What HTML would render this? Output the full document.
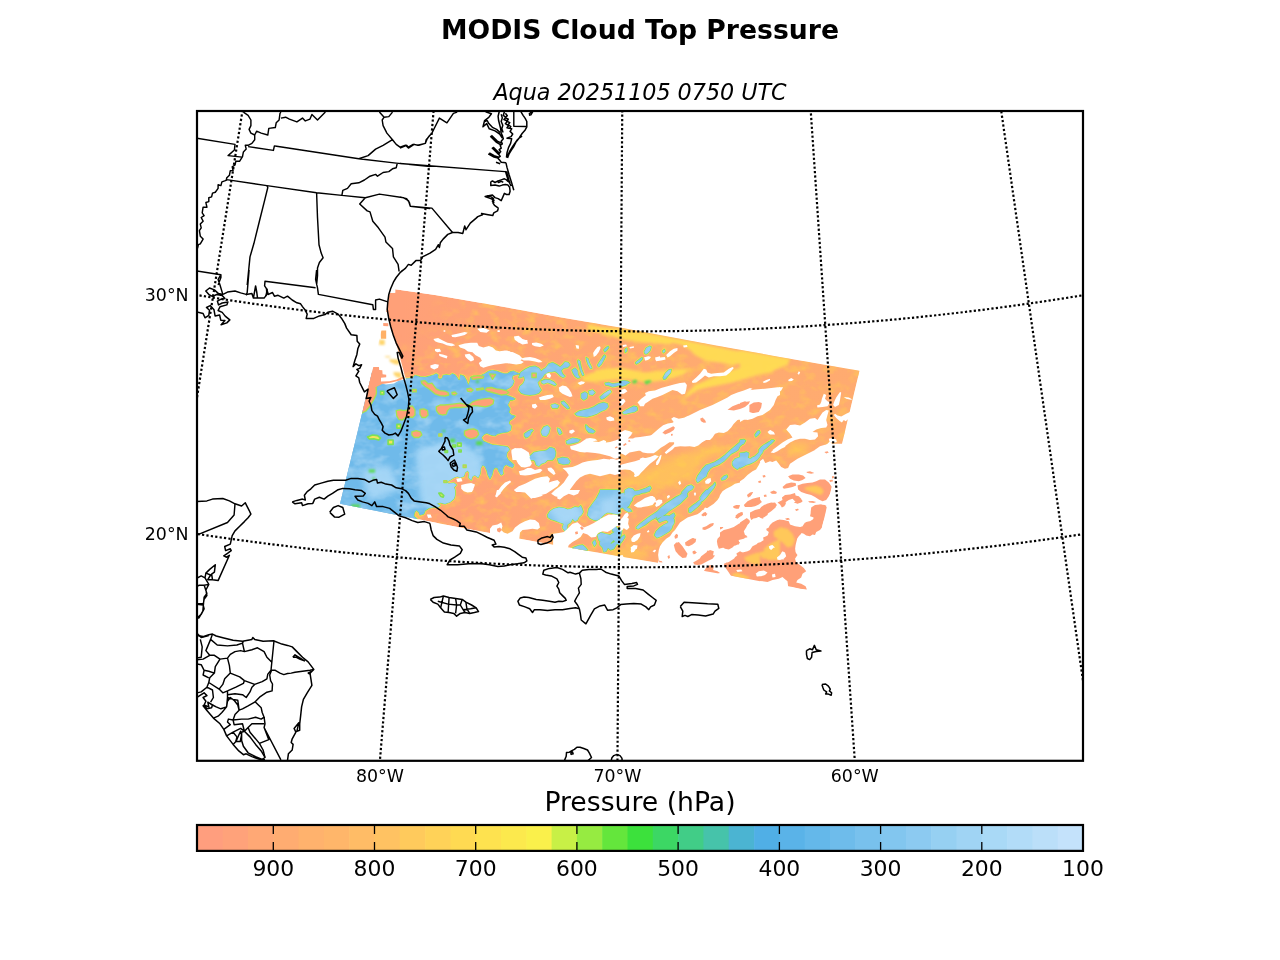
<!DOCTYPE html>
<html><head><meta charset="utf-8"><title>MODIS Cloud Top Pressure</title>
<style>
html,body{margin:0;padding:0;background:#fff;}
text{opacity:0.999}
svg{display:block;font-family:"DejaVu Sans","Liberation Sans",sans-serif;fill:#000}
</style></head><body>
<svg width="1280" height="960" viewBox="0 0 1280 960">
<rect width="1280" height="960" fill="#fff"/>
<defs><clipPath id="ax"><rect x="197" y="111" width="886" height="649.8"/></clipPath></defs>
<text x="640" y="39.3" font-size="26.67" font-weight="bold" text-anchor="middle">MODIS Cloud Top Pressure</text>
<text x="640" y="100" font-size="22.22" font-style="italic" text-anchor="middle">Aqua 20251105 0750 UTC</text>
<g clip-path="url(#ax)">
<defs>
<clipPath id="swc"><path d="M395.2 289.2 435 295.1 480 302.8 515 309 560 317.2 620 327.6 715 345.3 780 356.9 859.5 370.8 807 590.3 730 575.5 658.7 563.1 600 553.1 537.5 541.9 460 527.5 340 503.7 355.6 440 373 368 378.8 341 383 324 387.5 306 389.5 293 395.2 292.8Z"/></clipPath>
<filter id="bl3" x="-20%" y="-20%" width="140%" height="140%"><feGaussianBlur stdDeviation="3"/></filter>
<filter id="bl05" x="-30%" y="-30%" width="160%" height="160%"><feGaussianBlur stdDeviation="0.6"/></filter><filter id="bl2" x="-20%" y="-20%" width="140%" height="140%"><feGaussianBlur stdDeviation="1.8"/></filter><filter id="bl1" x="-20%" y="-20%" width="140%" height="140%"><feGaussianBlur stdDeviation="1"/></filter>
<filter id="texo" x="0" y="0" width="100%" height="100%" color-interpolation-filters="sRGB"><feTurbulence type="fractalNoise" baseFrequency="0.08 0.11" numOctaves="3" seed="7"/><feColorMatrix type="matrix" values="0 0 0 0 1  0 0 0 0 0.76  0 0 0 0 0.36  2.3 0 0 0 -1.07"/></filter>
<filter id="texb" x="0" y="0" width="100%" height="100%" color-interpolation-filters="sRGB"><feTurbulence type="fractalNoise" baseFrequency="0.06 0.09" numOctaves="3" seed="11"/><feColorMatrix type="matrix" values="0 0 0 0 0.66  0 0 0 0 0.84  0 0 0 0 0.96  1.9 0 0 0 -0.82"/></filter>
<radialGradient id="tg" gradientUnits="userSpaceOnUse" cx="396" cy="300" r="75"><stop offset="0" stop-color="#000"/><stop offset="0.45" stop-color="#000"/><stop offset="1" stop-color="#fff"/></radialGradient><mask id="tm" maskUnits="userSpaceOnUse" x="330" y="280" width="540" height="320"><rect x="330" y="280" width="540" height="320" fill="#fff"/><circle cx="396" cy="300" r="75" fill="url(#tg)"/></mask>
<linearGradient id="og" gradientUnits="userSpaceOnUse" x1="400" y1="0" x2="700" y2="0"><stop offset="0" stop-color="#ffb866" stop-opacity="0"/><stop offset="1" stop-color="#ffb866" stop-opacity="0.45"/></linearGradient>
</defs>
<g clip-path="url(#swc)">
<path d="M395.2 289.2 435 295.1 480 302.8 515 309 560 317.2 620 327.6 715 345.3 780 356.9 859.5 370.8 807 590.3 730 575.5 658.7 563.1 600 553.1 537.5 541.9 460 527.5 340 503.7 355.6 440 373 368 378.8 341 383 324 387.5 306 389.5 293 395.2 292.8Z" fill="#ffa078"/>
<rect x="330" y="280" width="540" height="320" fill="url(#og)"/>
<g mask="url(#tm)"><rect x="330" y="280" width="540" height="320" filter="url(#texo)"/></g>
<path d="M413.8 510 417.5 509.4 420 512.5 420.6 516.2 417.5 518.1 414 516.2Z M595 481.2 620 477.5 632.5 475 645 470 657.5 465 670 458.8 682.5 453.8 695 451.2 707.5 447.5 720 445 726.2 447.5 720 452.5 707.5 458.8 700 465 695 472.5 690 477.5 682.5 481.2 675 486.2 667.5 487.5 657.5 488.8 645 487.5 632.5 486.2 620 487.5 595 485Z M601.2 552.5 620 547.5 627.5 546.2 635 548.8 642.5 552.5 647.5 555 645 560 601.2 560Z M673.8 510 677.5 508.8 680 512.5 678.8 517.5 675 516.2Z M787.5 447.5 793.8 443.8 802.5 442.5 810 445 807.5 450 802.5 453.8 796.2 456.2 790 455Z M631.2 550 640 548.8 647.5 552.5 645 557.5 637.5 557.5 632.5 555Z" fill="#ffd24e" filter="url(#bl3)" opacity="0.55"/>
<path d="M587.5 325 620 328.8 657.5 335 695 342.5 732.5 350 780 357.5 780 362.5 757.5 361.2 745 362.5 732.5 365 720 362.5 707.5 361.2 700 357.5 695 355 690 350 682.5 345 670 342.5 657.5 343.8 645 341.2 632.5 340 620 338.8 587.5 328.8Z M595 370 620 367.5 632.5 370 645 372.5 657.5 371.2 670 370 682.5 368.8 690 370 682.5 375 670 378.8 657.5 381.2 645 382.5 632.5 380 620 378.8 595 375Z M732.5 370 745 366.2 757.5 363.8 770 361.2 780 360 780 367.5 770 372.5 757.5 375 745 378.8 732.5 382.5 720 385 707.5 387.5 697.5 390 690 395 682.5 400 687.5 392.5 695 385 707.5 380 720 375Z M740 350 765 354.4 790 358.8 787.5 365 777.5 368.8 765 371.2 752.5 376.2 740 378.8Z M582.2 377.2 593.1 372.5 605.6 369.4 621.2 367.8 621.2 378.8 608.8 380.3 593.1 381.9 583.8 381.1Z M622.8 331.9 640 335 655.6 337.3 671.2 339.7 671.2 344.4 655.6 343.6 640 342 624.4 339.7Z" fill="#ffdd52" filter="url(#bl2)" opacity="0.95"/>
<path d="M320 525 320 368 372 368 375.9 386.6 382.1 383.5 390.4 382.5 398.8 380.4 404 378.4 407.5 378.8 412.5 378.1 415 375.6 417.5 376.2 420 376.9 425 377.5 430 376.2 433.8 375 436.2 373.8 438.1 375 437.5 378.1 440 379.4 442.5 378.1 443.1 375.6 446.2 375 450 375.6 452.5 373.8 455 375 456.9 377.5 458.8 380.6 460 380 460.6 375 463.8 376.2 466.2 380 467.5 383.8 468.8 385 470 381.2 470.6 377.5 473.8 376.2 477.5 376.9 481.2 375.6 485 373.8 488.8 371.2 492.5 370.6 496.2 371.2 500 372.5 503.8 373.8 507.5 373.8 510 371.9 513.8 371.2 516.2 372.5 520 373.8 520 373.8 516.2 374.4 512.5 375.6 511.9 378.8 513.8 381.2 512.5 385 510 387.5 506.2 389.4 503.8 391.2 505 395 508.8 396.2 512.5 397.5 515 398.8 512.5 400 510 400 507.5 405 510 408.8 508.8 412.5 511.2 415 515 416.2 512.5 418.8 509.4 420.6 508.8 423.8 511.2 426.2 510.6 430 507.5 431.9 502.5 432.5 497.5 433.8 495 435.6 491.2 435 486.9 433.1 483.8 434.4 481.2 437.5 483.1 441.2 487.5 443.1 492.5 445 497.5 445.6 502.5 446.2 507.5 446.9 509.4 449.4 506.9 452.5 506.2 456.2 508.1 460 511.2 462.5 513.8 465 512.5 467.5 509.4 466.2 506.2 464.4 503.8 466.2 502.5 470 503.1 473.8 501.2 475 498.8 471.2 497.5 468.1 495 467.5 493.1 470 491.9 475 490 478.8 488.1 475 486.9 470.6 485 466.2 482.5 465 480.6 468.1 480 473.8 478.1 477.5 475 475 472.5 476.2 471.2 480 468.8 477.5 469.4 472.5 467.5 470.6 465 472.5 463.8 476.2 460 477.5 457.5 476.2 453.8 477.5 450 480 446.2 481.9 448.8 483.8 453.8 483.1 456.2 485 453.8 487.5 455 490 455 495 453.8 498.8 450 501.9 445 503.8 440 502.5 436.2 503.8 440 505.6 437.5 507.5 433.8 506.9 428.8 508.1 425 510.6 423.8 513.8 420 515 418.8 511.9 416.2 510 414.4 512.5 413.8 516.2 417.5 519.4 417 530Z M543.8 426.9 547.5 425.6 550 428.1 548.8 432.5 546.2 435.6 543.1 434.4 541.2 431.2Z M557.5 428.1 560 430 561.2 433.8 559.4 434.4 557.8 431.2Z M524.4 433.8 528.1 431.2 531.9 429.4 533.1 430.6 530 433.8 526.2 436.2 524.4 436.2Z M530 455.6 535 455 537.5 451.9 542.5 451.2 547.5 450 551.2 447.5 554.4 448.8 555.6 452.5 555 456.2 551.9 458.8 547.5 460 545 462.5 541.2 463.8 538.8 466.2 536.2 465 535 461.2 532.5 458.8Z M557.5 458.8 562.5 457.5 567.5 458.1 570 461.2 568.8 463.8 563.8 464.4 558.8 463.1Z M566.2 441.2 570 439.4 575 438.8 580 439.4 578.1 441.9 573.8 443.1 570 443.8 566.9 443.8Z M561.2 401.9 563.8 401.2 567.5 405 569.4 408.1 567.5 408.8 564.4 406.2 561.9 403.8Z M551.2 405.6 555 405 556.2 407.5 552.5 408.1Z M585.6 425 587.5 426.9 590 430 593.8 430.6 592.5 432.5 588.8 432.5 586.2 429.4Z M518.8 377.5 520.6 372.5 525 369.4 530 366.9 535 366.2 538.8 368.1 541.2 371.2 543.1 369.4 545.6 368.1 550 366.9 553.8 365 556.2 366.9 555 370 551.2 371.2 547.5 372.5 544.4 374.4 542.5 377.5 540 380 537.5 382.5 538.8 386.2 541.2 390 538.8 393.1 535 394.4 530 395 525 394.4 521.2 393.1 518.8 390 520 386.2 523.1 383.8 525 380 523.8 376.2 521.2 377.5Z M545.6 368.1 548.8 363.8 552.5 362.5 556.2 364.4 560 366.9 562.5 365 565 361.9 568.1 362.5 570 365 567.5 367.5 563.8 368.1 561.2 370.6 562.5 373.8 565 376.2 563.1 377.5 560 375.6 557.5 373.1 555 371.2 551.2 371.9 548.1 371.2Z M541.2 381.2 545 379.4 550 380 553.8 381.9 556.2 384.4 555 385.6 551.2 383.8 547.5 382.5 543.8 383.8 541.9 383.1Z M571.9 370 575 368.1 577.5 370.6 578.1 375 580 377.5 577.5 378.1 575 376.2 573.1 373.1Z M578.1 360 580 361.2 580.6 365 581.9 370 583.8 375 582.5 375.6 580.6 371.2 579 365.6 577.8 361.9Z M586.2 357.5 588.1 358.8 589.4 363.1 591.9 368.1 590.6 368.8 588.1 364.4 586.5 360Z M597.5 365 600 361.2 602.5 357.5 604.4 355 605.6 356.2 603.8 360 601.2 364.4 598.8 366.9Z M603.8 350 606.2 347.5 608.1 346.2 608.8 347.5 606.9 350 604.8 351.9Z M644.4 351.2 646.9 348.1 649.4 346.2 651.2 346.9 650 350.6 647.5 353.1 645 353.8Z M635.6 363.1 638.8 360.6 641.2 358.8 641.9 359.8 639.4 362.2 636.5 364Z M605 383.1 608.8 382.5 612.5 383.8 617.5 383.1 622.5 381.9 627.5 381.2 630 382.5 626.2 384.4 621.2 385 616.2 386.2 612.5 386.9 608.8 385.6 605.6 385Z M581.2 393.8 585 391.9 587.5 393.8 586.9 398.1 583.8 400 581.2 398.1Z M588.8 391.2 592.5 390 595 392.5 592.5 395 589.4 394.4Z M600 396.9 603.8 393.8 607.5 391.2 610 390 611.2 391.9 608.1 395 604.4 398.1 601.2 399.4Z M575 413.8 578.8 411.2 583.8 410 588.8 408.8 593.8 406.9 598.8 403.8 603.8 402.5 607.5 403.8 608.1 406.9 605.6 409.4 601.2 411.2 596.9 413.8 591.9 415.6 586.9 416.9 581.2 416.2 576.9 415.6Z M623.1 412.5 626.2 410.6 630 408.1 633.8 406.2 636.9 406.9 637.5 410 634.4 411.9 630.6 412.5 626.2 413.8Z M586.2 425 588.8 427.5 592.5 429.4 595 431.2 593.1 433.1 589.4 432.5 586.9 429.4 585.4 426.2Z M541.2 432.5 543.8 427.5 547.5 426.2 549.4 428.8 548.8 433.1 546.2 436.2 542.5 435.6Z M525 435.6 528.1 433.1 531.2 431.9 530.6 434.4 528.1 436.9 525.6 437.8Z M568.1 440 572.5 438.1 577.5 438.8 580 440 576.9 441.9 572.5 443.1 568.8 442.5Z M528.8 456.9 533.8 452.5 540 451.2 546.2 450.6 550 447.5 553.8 448.8 555.6 452.5 555 456.9 552.5 460 530 460Z M551.2 405 555 403.8 558.8 405.6 557.5 408.1 553.1 408.1Z M561.2 401.9 563.8 401.2 567.5 405 569.4 408.1 567.5 408.8 564.4 406.2 561.9 403.8Z M557.5 428.1 560 429.4 561.9 433.1 560 433.8 558.1 431.2Z M644.4 351.9 646.2 348.1 649.4 346.2 650.6 348.1 649.4 351.2 646.9 353.8 645 353.8Z M662.5 351.2 664.4 349.4 665 351.2 663.5 352.8Z M635.6 362.5 638.8 360 641.9 357.5 642.5 358.8 639.4 361.9 636.2 363.8Z M663.1 377.5 665.6 373.1 668.8 370 671.2 369.4 670.6 372.5 668.1 375.6 665.6 378.8 663.8 379.4Z M620 381.2 623.8 380.6 627.5 381.2 626.2 385 622.5 386.2 620 385.6Z M622.5 412.5 626.2 410 631.2 407.5 636.2 406.9 637.5 408.8 633.8 411.9 628.8 413.1 623.8 413.8Z M755 434.4 757.5 431.2 759.4 430.6 758.8 433.8 756.2 436.2Z M625 349.4 626.9 348.1 626.9 351.2 625.2 352.5Z M755 435 756.9 432.5 759.4 431 760 432.5 758.1 435 755.6 436.9Z M740 440 743.8 439.4 745.6 440.6 743.8 443.8 740 445Z M758.8 450 761.2 446.9 765 444.4 768.8 441.9 772.5 440 773.1 441.2 770 444.4 766.9 447.5 763.1 450.6 760 451.9Z M740 453.1 745 452.5 748.8 454.4 747.5 458.8 743.8 460 740 460Z M751.2 458.1 755 456.2 758.8 455 758.1 457.5 754.4 459.8 751.9 460Z M745 440 743.1 443.8 740 446.2 738.1 450 735 451.9 731.2 453.8 727.5 457.5 723.8 461.2 720 463.8 716.2 465.6 712.5 466.9 710 468.8 707.5 472.5 706.2 476.2 702.5 478.8 699.4 481.2 697.5 482.5 696.2 480 697.5 476.2 700 472.5 702.5 468.8 706.2 465 710 463.8 715 461.9 720 458.8 725 455 730 450.6 735 446.2 738.8 443.1 741.9 440Z M732.5 461.9 735 458.8 738.8 457.5 742.5 456.2 743.8 453.1 746.2 451.9 748.8 453.1 748.1 456.9 746.2 458.8 750 460 753.8 457.5 757.5 454.4 760.6 450.6 761.2 446.9 763.8 445 767.5 443.1 771.2 441.2 773.1 440 774.4 440.6 771.2 443.8 767.5 446.2 763.8 448.8 762.5 452.5 759.4 456.2 755.6 460 751.9 463.1 747.5 464.4 743.8 465.6 740 466.9 737.5 469.4 734.4 467.5 732.5 465Z M721.2 478.8 723.8 476.2 726.9 475 727.5 476.9 725 479.4 721.9 480.2Z M685 488.8 687.5 486.2 691.2 485 693.8 486.9 691.9 489.4 688.8 491.2 686.9 493.8 687.5 496.2 685 498.8 682.5 501.2 680 503.8 676.2 506.2 672.5 508.8 668.8 511.2 666.2 513.8 662.5 516.2 658.8 518.1 656.2 519.4 657.5 516.2 661.2 513.8 665 510 669.4 506.2 672.5 502.5 675 499.4 678.8 496.9 682.5 495 683.8 492.5 681.2 493.8 681.9 491.9Z M702.5 497.5 705 493.8 707.5 490 710 487.5 713.1 485 715 482.5 715.6 484.4 713.8 488.1 711.2 491.2 708.1 495 705.6 498.1 703.1 500.6 700 502.5 696.2 505 693.1 507.5 690.6 509.4 691.2 511.9 689.4 511.2 688.8 508.8 692.5 505.6 696.2 503.1 700 500Z M636.2 528.1 640 525 643.8 522.5 647.5 519.4 651.2 515.6 653.8 513.8 654.4 516.2 651.9 519.4 648.8 521.9 645 525 641.2 526.9 638.1 529Z M657.5 520 662.5 516.2 667.5 515.6 672.5 516.9 674.4 520 673.1 523.1 669.4 522.5 666.2 520 662.5 521.2 659.4 522.5Z M655.6 536.2 656.9 532.5 660 529.4 663.8 526.9 668.1 525 672.5 525 671.9 528.1 669.4 531.2 665 534 660.6 536.5 656.9 537.8Z M625 490 628.8 488.1 632.5 488.8 635 491.2 638.8 490.6 642.5 489.4 646.2 488.1 650 486.2 651.2 488.1 649.4 491.2 645.6 492.5 641.9 493.1 638.8 494.4 635 495 632.5 497.5 631.2 501.2 629.4 502.5 628.1 499.4 626.2 496.2 624.4 493.8Z M620 493.8 623.8 493.1 625.6 496.2 625 500 622.5 502.5 620 503.1Z M626.9 498.8 630 498.1 632.5 500 630.6 502.5 628.8 506.2 627.5 503.8Z M620 538.8 622.5 536.2 624.4 535 625 536.9 623.1 540 621.2 542.5 620 543.8Z M740 440 743.8 440 741.2 443.1 740 444.4Z M740 456.2 743.8 455 746.2 452.5 748.8 453.8 747.5 457.5 750 458.8 753.8 457.5 756.2 455 758.8 452.5 760 448.8 762.5 446.2 766.2 443.8 770 441.2 771.2 440 773.8 440 771.2 443.1 767.5 446.2 763.8 449.4 761.2 452.5 760 456.2 757.5 459.4 753.8 461.9 750 463.8 746.2 465 742.5 466.9 740 468.1Z M547.5 515 550 511.2 553.8 508.8 558.8 507.5 563.8 508.1 567.5 509.4 571.2 508.8 575 506.9 578.8 507.5 580.6 505.6 581.9 508.1 583.1 511.9 581.2 515 578.8 516.9 577.5 520 575 521.2 572.5 518.8 570.6 522.5 567.5 524.4 566.9 528.8 565 531.2 562.5 527.5 563.8 523.8 560 522.5 555 520.6 551.2 519.4 548.1 517.5Z M587.5 515 588.8 508.8 592.5 503.8 596.2 498.8 598.8 493.8 600 491.5 602.5 492.5 603.8 496.2 607.5 497.5 611.2 493.8 615 491.2 620 490 620 511.2 615 513.8 611.2 513.1 608.8 511.2 605 513.8 601.2 517.5 597.5 520.6 593.8 520 590 518.1Z M597.5 535 601.2 532.5 605 533.8 610 535 613.8 532.5 617.5 528.8 620 527.5 620 545 616.2 543.8 613.8 540 611.2 542.5 608.8 546.2 606.2 551.2 603.8 551.9 603.1 546.2 601.2 542.5 598.8 540Z M571.2 548.8 575 546.9 578.8 545.6 582.5 545 585 546.9 587.5 550 585 551.2 580 550 575 549.8Z M592.5 542.5 595 540 596.2 543.8 594.4 546.2Z M600 490 617.5 490 618.8 493.8 621.9 496.2 625 495 626.9 492.5 628.8 490 633.8 490 632.5 493.8 630 497.5 631.2 501.2 629.4 505 626.9 507.5 630 508.8 631.9 511.2 628.8 511.9 625 510 622.5 507.5 620 508.8 620.6 512.5 617.5 514.4 612.5 513.1 607.5 512.5 603.8 514.4 600 515Z M600 532.5 605 535 607.5 540 611.2 543.8 613.8 542.5 616.2 537.5 618.8 532.5 620.6 528.8 621.9 530 621.2 535 618.8 540 616.2 545 613.8 548.8 610.6 550 607.5 547.5 606.2 551.2 603.8 551.9 602.5 547.5 600 545Z M612.5 527.5 615.6 526.2 617.5 528.8 615 531.9 612.5 531.2Z M636.2 527.5 640 523.8 645 520 650 516.2 653.8 513.8 657.5 511.2 661.2 507.5 665 504.4 668.8 501.9 672.5 499.4 676.2 496.9 680 495 683.8 492.5 686.2 493.1 685.6 497.5 682.5 500 678.8 503.1 675 505.6 671.2 507.5 667.5 509.4 663.8 511.9 660 514.4 656.2 517.5 652.5 519.4 648.8 521.2 645 523.1 641.9 525.6 638.8 528.1Z M654.4 535 656.2 531.2 660 527.5 663.8 525 667.5 523.1 670 520.6 672.5 519.4 674.4 521.9 673.1 525 669.4 527.5 665.6 530 661.9 533.1 658.1 536 655.6 536.5Z M668.1 516.9 670.6 515 673.8 513.1 675 515.6 673.1 518.8 670 519.4Z M700 497.5 702.5 493.8 706.2 490 710 490 707.5 493.8 705 496.9 702.5 500 700.6 500Z M688.8 510.6 692.5 507.5 696.2 504.4 700 501.9 701.2 503.1 698.1 506.2 694.4 509.4 690.6 512.5 689 512.2Z" fill="none" stroke="#f7e156" stroke-width="2.4" stroke-linejoin="round"/>
<path d="M320 525 320 368 372 368 375.9 386.6 382.1 383.5 390.4 382.5 398.8 380.4 404 378.4 407.5 378.8 412.5 378.1 415 375.6 417.5 376.2 420 376.9 425 377.5 430 376.2 433.8 375 436.2 373.8 438.1 375 437.5 378.1 440 379.4 442.5 378.1 443.1 375.6 446.2 375 450 375.6 452.5 373.8 455 375 456.9 377.5 458.8 380.6 460 380 460.6 375 463.8 376.2 466.2 380 467.5 383.8 468.8 385 470 381.2 470.6 377.5 473.8 376.2 477.5 376.9 481.2 375.6 485 373.8 488.8 371.2 492.5 370.6 496.2 371.2 500 372.5 503.8 373.8 507.5 373.8 510 371.9 513.8 371.2 516.2 372.5 520 373.8 520 373.8 516.2 374.4 512.5 375.6 511.9 378.8 513.8 381.2 512.5 385 510 387.5 506.2 389.4 503.8 391.2 505 395 508.8 396.2 512.5 397.5 515 398.8 512.5 400 510 400 507.5 405 510 408.8 508.8 412.5 511.2 415 515 416.2 512.5 418.8 509.4 420.6 508.8 423.8 511.2 426.2 510.6 430 507.5 431.9 502.5 432.5 497.5 433.8 495 435.6 491.2 435 486.9 433.1 483.8 434.4 481.2 437.5 483.1 441.2 487.5 443.1 492.5 445 497.5 445.6 502.5 446.2 507.5 446.9 509.4 449.4 506.9 452.5 506.2 456.2 508.1 460 511.2 462.5 513.8 465 512.5 467.5 509.4 466.2 506.2 464.4 503.8 466.2 502.5 470 503.1 473.8 501.2 475 498.8 471.2 497.5 468.1 495 467.5 493.1 470 491.9 475 490 478.8 488.1 475 486.9 470.6 485 466.2 482.5 465 480.6 468.1 480 473.8 478.1 477.5 475 475 472.5 476.2 471.2 480 468.8 477.5 469.4 472.5 467.5 470.6 465 472.5 463.8 476.2 460 477.5 457.5 476.2 453.8 477.5 450 480 446.2 481.9 448.8 483.8 453.8 483.1 456.2 485 453.8 487.5 455 490 455 495 453.8 498.8 450 501.9 445 503.8 440 502.5 436.2 503.8 440 505.6 437.5 507.5 433.8 506.9 428.8 508.1 425 510.6 423.8 513.8 420 515 418.8 511.9 416.2 510 414.4 512.5 413.8 516.2 417.5 519.4 417 530Z M543.8 426.9 547.5 425.6 550 428.1 548.8 432.5 546.2 435.6 543.1 434.4 541.2 431.2Z M557.5 428.1 560 430 561.2 433.8 559.4 434.4 557.8 431.2Z M524.4 433.8 528.1 431.2 531.9 429.4 533.1 430.6 530 433.8 526.2 436.2 524.4 436.2Z M530 455.6 535 455 537.5 451.9 542.5 451.2 547.5 450 551.2 447.5 554.4 448.8 555.6 452.5 555 456.2 551.9 458.8 547.5 460 545 462.5 541.2 463.8 538.8 466.2 536.2 465 535 461.2 532.5 458.8Z M557.5 458.8 562.5 457.5 567.5 458.1 570 461.2 568.8 463.8 563.8 464.4 558.8 463.1Z M566.2 441.2 570 439.4 575 438.8 580 439.4 578.1 441.9 573.8 443.1 570 443.8 566.9 443.8Z M561.2 401.9 563.8 401.2 567.5 405 569.4 408.1 567.5 408.8 564.4 406.2 561.9 403.8Z M551.2 405.6 555 405 556.2 407.5 552.5 408.1Z M585.6 425 587.5 426.9 590 430 593.8 430.6 592.5 432.5 588.8 432.5 586.2 429.4Z M518.8 377.5 520.6 372.5 525 369.4 530 366.9 535 366.2 538.8 368.1 541.2 371.2 543.1 369.4 545.6 368.1 550 366.9 553.8 365 556.2 366.9 555 370 551.2 371.2 547.5 372.5 544.4 374.4 542.5 377.5 540 380 537.5 382.5 538.8 386.2 541.2 390 538.8 393.1 535 394.4 530 395 525 394.4 521.2 393.1 518.8 390 520 386.2 523.1 383.8 525 380 523.8 376.2 521.2 377.5Z M545.6 368.1 548.8 363.8 552.5 362.5 556.2 364.4 560 366.9 562.5 365 565 361.9 568.1 362.5 570 365 567.5 367.5 563.8 368.1 561.2 370.6 562.5 373.8 565 376.2 563.1 377.5 560 375.6 557.5 373.1 555 371.2 551.2 371.9 548.1 371.2Z M541.2 381.2 545 379.4 550 380 553.8 381.9 556.2 384.4 555 385.6 551.2 383.8 547.5 382.5 543.8 383.8 541.9 383.1Z M571.9 370 575 368.1 577.5 370.6 578.1 375 580 377.5 577.5 378.1 575 376.2 573.1 373.1Z M578.1 360 580 361.2 580.6 365 581.9 370 583.8 375 582.5 375.6 580.6 371.2 579 365.6 577.8 361.9Z M586.2 357.5 588.1 358.8 589.4 363.1 591.9 368.1 590.6 368.8 588.1 364.4 586.5 360Z M597.5 365 600 361.2 602.5 357.5 604.4 355 605.6 356.2 603.8 360 601.2 364.4 598.8 366.9Z M603.8 350 606.2 347.5 608.1 346.2 608.8 347.5 606.9 350 604.8 351.9Z M644.4 351.2 646.9 348.1 649.4 346.2 651.2 346.9 650 350.6 647.5 353.1 645 353.8Z M635.6 363.1 638.8 360.6 641.2 358.8 641.9 359.8 639.4 362.2 636.5 364Z M605 383.1 608.8 382.5 612.5 383.8 617.5 383.1 622.5 381.9 627.5 381.2 630 382.5 626.2 384.4 621.2 385 616.2 386.2 612.5 386.9 608.8 385.6 605.6 385Z M581.2 393.8 585 391.9 587.5 393.8 586.9 398.1 583.8 400 581.2 398.1Z M588.8 391.2 592.5 390 595 392.5 592.5 395 589.4 394.4Z M600 396.9 603.8 393.8 607.5 391.2 610 390 611.2 391.9 608.1 395 604.4 398.1 601.2 399.4Z M575 413.8 578.8 411.2 583.8 410 588.8 408.8 593.8 406.9 598.8 403.8 603.8 402.5 607.5 403.8 608.1 406.9 605.6 409.4 601.2 411.2 596.9 413.8 591.9 415.6 586.9 416.9 581.2 416.2 576.9 415.6Z M623.1 412.5 626.2 410.6 630 408.1 633.8 406.2 636.9 406.9 637.5 410 634.4 411.9 630.6 412.5 626.2 413.8Z M586.2 425 588.8 427.5 592.5 429.4 595 431.2 593.1 433.1 589.4 432.5 586.9 429.4 585.4 426.2Z M541.2 432.5 543.8 427.5 547.5 426.2 549.4 428.8 548.8 433.1 546.2 436.2 542.5 435.6Z M525 435.6 528.1 433.1 531.2 431.9 530.6 434.4 528.1 436.9 525.6 437.8Z M568.1 440 572.5 438.1 577.5 438.8 580 440 576.9 441.9 572.5 443.1 568.8 442.5Z M528.8 456.9 533.8 452.5 540 451.2 546.2 450.6 550 447.5 553.8 448.8 555.6 452.5 555 456.9 552.5 460 530 460Z M551.2 405 555 403.8 558.8 405.6 557.5 408.1 553.1 408.1Z M561.2 401.9 563.8 401.2 567.5 405 569.4 408.1 567.5 408.8 564.4 406.2 561.9 403.8Z M557.5 428.1 560 429.4 561.9 433.1 560 433.8 558.1 431.2Z M644.4 351.9 646.2 348.1 649.4 346.2 650.6 348.1 649.4 351.2 646.9 353.8 645 353.8Z M662.5 351.2 664.4 349.4 665 351.2 663.5 352.8Z M635.6 362.5 638.8 360 641.9 357.5 642.5 358.8 639.4 361.9 636.2 363.8Z M663.1 377.5 665.6 373.1 668.8 370 671.2 369.4 670.6 372.5 668.1 375.6 665.6 378.8 663.8 379.4Z M620 381.2 623.8 380.6 627.5 381.2 626.2 385 622.5 386.2 620 385.6Z M622.5 412.5 626.2 410 631.2 407.5 636.2 406.9 637.5 408.8 633.8 411.9 628.8 413.1 623.8 413.8Z M755 434.4 757.5 431.2 759.4 430.6 758.8 433.8 756.2 436.2Z M625 349.4 626.9 348.1 626.9 351.2 625.2 352.5Z M755 435 756.9 432.5 759.4 431 760 432.5 758.1 435 755.6 436.9Z M740 440 743.8 439.4 745.6 440.6 743.8 443.8 740 445Z M758.8 450 761.2 446.9 765 444.4 768.8 441.9 772.5 440 773.1 441.2 770 444.4 766.9 447.5 763.1 450.6 760 451.9Z M740 453.1 745 452.5 748.8 454.4 747.5 458.8 743.8 460 740 460Z M751.2 458.1 755 456.2 758.8 455 758.1 457.5 754.4 459.8 751.9 460Z M745 440 743.1 443.8 740 446.2 738.1 450 735 451.9 731.2 453.8 727.5 457.5 723.8 461.2 720 463.8 716.2 465.6 712.5 466.9 710 468.8 707.5 472.5 706.2 476.2 702.5 478.8 699.4 481.2 697.5 482.5 696.2 480 697.5 476.2 700 472.5 702.5 468.8 706.2 465 710 463.8 715 461.9 720 458.8 725 455 730 450.6 735 446.2 738.8 443.1 741.9 440Z M732.5 461.9 735 458.8 738.8 457.5 742.5 456.2 743.8 453.1 746.2 451.9 748.8 453.1 748.1 456.9 746.2 458.8 750 460 753.8 457.5 757.5 454.4 760.6 450.6 761.2 446.9 763.8 445 767.5 443.1 771.2 441.2 773.1 440 774.4 440.6 771.2 443.8 767.5 446.2 763.8 448.8 762.5 452.5 759.4 456.2 755.6 460 751.9 463.1 747.5 464.4 743.8 465.6 740 466.9 737.5 469.4 734.4 467.5 732.5 465Z M721.2 478.8 723.8 476.2 726.9 475 727.5 476.9 725 479.4 721.9 480.2Z M685 488.8 687.5 486.2 691.2 485 693.8 486.9 691.9 489.4 688.8 491.2 686.9 493.8 687.5 496.2 685 498.8 682.5 501.2 680 503.8 676.2 506.2 672.5 508.8 668.8 511.2 666.2 513.8 662.5 516.2 658.8 518.1 656.2 519.4 657.5 516.2 661.2 513.8 665 510 669.4 506.2 672.5 502.5 675 499.4 678.8 496.9 682.5 495 683.8 492.5 681.2 493.8 681.9 491.9Z M702.5 497.5 705 493.8 707.5 490 710 487.5 713.1 485 715 482.5 715.6 484.4 713.8 488.1 711.2 491.2 708.1 495 705.6 498.1 703.1 500.6 700 502.5 696.2 505 693.1 507.5 690.6 509.4 691.2 511.9 689.4 511.2 688.8 508.8 692.5 505.6 696.2 503.1 700 500Z M636.2 528.1 640 525 643.8 522.5 647.5 519.4 651.2 515.6 653.8 513.8 654.4 516.2 651.9 519.4 648.8 521.9 645 525 641.2 526.9 638.1 529Z M657.5 520 662.5 516.2 667.5 515.6 672.5 516.9 674.4 520 673.1 523.1 669.4 522.5 666.2 520 662.5 521.2 659.4 522.5Z M655.6 536.2 656.9 532.5 660 529.4 663.8 526.9 668.1 525 672.5 525 671.9 528.1 669.4 531.2 665 534 660.6 536.5 656.9 537.8Z M625 490 628.8 488.1 632.5 488.8 635 491.2 638.8 490.6 642.5 489.4 646.2 488.1 650 486.2 651.2 488.1 649.4 491.2 645.6 492.5 641.9 493.1 638.8 494.4 635 495 632.5 497.5 631.2 501.2 629.4 502.5 628.1 499.4 626.2 496.2 624.4 493.8Z M620 493.8 623.8 493.1 625.6 496.2 625 500 622.5 502.5 620 503.1Z M626.9 498.8 630 498.1 632.5 500 630.6 502.5 628.8 506.2 627.5 503.8Z M620 538.8 622.5 536.2 624.4 535 625 536.9 623.1 540 621.2 542.5 620 543.8Z M740 440 743.8 440 741.2 443.1 740 444.4Z M740 456.2 743.8 455 746.2 452.5 748.8 453.8 747.5 457.5 750 458.8 753.8 457.5 756.2 455 758.8 452.5 760 448.8 762.5 446.2 766.2 443.8 770 441.2 771.2 440 773.8 440 771.2 443.1 767.5 446.2 763.8 449.4 761.2 452.5 760 456.2 757.5 459.4 753.8 461.9 750 463.8 746.2 465 742.5 466.9 740 468.1Z M547.5 515 550 511.2 553.8 508.8 558.8 507.5 563.8 508.1 567.5 509.4 571.2 508.8 575 506.9 578.8 507.5 580.6 505.6 581.9 508.1 583.1 511.9 581.2 515 578.8 516.9 577.5 520 575 521.2 572.5 518.8 570.6 522.5 567.5 524.4 566.9 528.8 565 531.2 562.5 527.5 563.8 523.8 560 522.5 555 520.6 551.2 519.4 548.1 517.5Z M587.5 515 588.8 508.8 592.5 503.8 596.2 498.8 598.8 493.8 600 491.5 602.5 492.5 603.8 496.2 607.5 497.5 611.2 493.8 615 491.2 620 490 620 511.2 615 513.8 611.2 513.1 608.8 511.2 605 513.8 601.2 517.5 597.5 520.6 593.8 520 590 518.1Z M597.5 535 601.2 532.5 605 533.8 610 535 613.8 532.5 617.5 528.8 620 527.5 620 545 616.2 543.8 613.8 540 611.2 542.5 608.8 546.2 606.2 551.2 603.8 551.9 603.1 546.2 601.2 542.5 598.8 540Z M571.2 548.8 575 546.9 578.8 545.6 582.5 545 585 546.9 587.5 550 585 551.2 580 550 575 549.8Z M592.5 542.5 595 540 596.2 543.8 594.4 546.2Z M600 490 617.5 490 618.8 493.8 621.9 496.2 625 495 626.9 492.5 628.8 490 633.8 490 632.5 493.8 630 497.5 631.2 501.2 629.4 505 626.9 507.5 630 508.8 631.9 511.2 628.8 511.9 625 510 622.5 507.5 620 508.8 620.6 512.5 617.5 514.4 612.5 513.1 607.5 512.5 603.8 514.4 600 515Z M600 532.5 605 535 607.5 540 611.2 543.8 613.8 542.5 616.2 537.5 618.8 532.5 620.6 528.8 621.9 530 621.2 535 618.8 540 616.2 545 613.8 548.8 610.6 550 607.5 547.5 606.2 551.2 603.8 551.9 602.5 547.5 600 545Z M612.5 527.5 615.6 526.2 617.5 528.8 615 531.9 612.5 531.2Z M636.2 527.5 640 523.8 645 520 650 516.2 653.8 513.8 657.5 511.2 661.2 507.5 665 504.4 668.8 501.9 672.5 499.4 676.2 496.9 680 495 683.8 492.5 686.2 493.1 685.6 497.5 682.5 500 678.8 503.1 675 505.6 671.2 507.5 667.5 509.4 663.8 511.9 660 514.4 656.2 517.5 652.5 519.4 648.8 521.2 645 523.1 641.9 525.6 638.8 528.1Z M654.4 535 656.2 531.2 660 527.5 663.8 525 667.5 523.1 670 520.6 672.5 519.4 674.4 521.9 673.1 525 669.4 527.5 665.6 530 661.9 533.1 658.1 536 655.6 536.5Z M668.1 516.9 670.6 515 673.8 513.1 675 515.6 673.1 518.8 670 519.4Z M700 497.5 702.5 493.8 706.2 490 710 490 707.5 493.8 705 496.9 702.5 500 700.6 500Z M688.8 510.6 692.5 507.5 696.2 504.4 700 501.9 701.2 503.1 698.1 506.2 694.4 509.4 690.6 512.5 689 512.2Z" fill="none" stroke="#86e052" stroke-width="1.3" stroke-linejoin="round"/>
<path d="M320 525 320 368 372 368 375.9 386.6 382.1 383.5 390.4 382.5 398.8 380.4 404 378.4 407.5 378.8 412.5 378.1 415 375.6 417.5 376.2 420 376.9 425 377.5 430 376.2 433.8 375 436.2 373.8 438.1 375 437.5 378.1 440 379.4 442.5 378.1 443.1 375.6 446.2 375 450 375.6 452.5 373.8 455 375 456.9 377.5 458.8 380.6 460 380 460.6 375 463.8 376.2 466.2 380 467.5 383.8 468.8 385 470 381.2 470.6 377.5 473.8 376.2 477.5 376.9 481.2 375.6 485 373.8 488.8 371.2 492.5 370.6 496.2 371.2 500 372.5 503.8 373.8 507.5 373.8 510 371.9 513.8 371.2 516.2 372.5 520 373.8 520 373.8 516.2 374.4 512.5 375.6 511.9 378.8 513.8 381.2 512.5 385 510 387.5 506.2 389.4 503.8 391.2 505 395 508.8 396.2 512.5 397.5 515 398.8 512.5 400 510 400 507.5 405 510 408.8 508.8 412.5 511.2 415 515 416.2 512.5 418.8 509.4 420.6 508.8 423.8 511.2 426.2 510.6 430 507.5 431.9 502.5 432.5 497.5 433.8 495 435.6 491.2 435 486.9 433.1 483.8 434.4 481.2 437.5 483.1 441.2 487.5 443.1 492.5 445 497.5 445.6 502.5 446.2 507.5 446.9 509.4 449.4 506.9 452.5 506.2 456.2 508.1 460 511.2 462.5 513.8 465 512.5 467.5 509.4 466.2 506.2 464.4 503.8 466.2 502.5 470 503.1 473.8 501.2 475 498.8 471.2 497.5 468.1 495 467.5 493.1 470 491.9 475 490 478.8 488.1 475 486.9 470.6 485 466.2 482.5 465 480.6 468.1 480 473.8 478.1 477.5 475 475 472.5 476.2 471.2 480 468.8 477.5 469.4 472.5 467.5 470.6 465 472.5 463.8 476.2 460 477.5 457.5 476.2 453.8 477.5 450 480 446.2 481.9 448.8 483.8 453.8 483.1 456.2 485 453.8 487.5 455 490 455 495 453.8 498.8 450 501.9 445 503.8 440 502.5 436.2 503.8 440 505.6 437.5 507.5 433.8 506.9 428.8 508.1 425 510.6 423.8 513.8 420 515 418.8 511.9 416.2 510 414.4 512.5 413.8 516.2 417.5 519.4 417 530Z M543.8 426.9 547.5 425.6 550 428.1 548.8 432.5 546.2 435.6 543.1 434.4 541.2 431.2Z M557.5 428.1 560 430 561.2 433.8 559.4 434.4 557.8 431.2Z M524.4 433.8 528.1 431.2 531.9 429.4 533.1 430.6 530 433.8 526.2 436.2 524.4 436.2Z M530 455.6 535 455 537.5 451.9 542.5 451.2 547.5 450 551.2 447.5 554.4 448.8 555.6 452.5 555 456.2 551.9 458.8 547.5 460 545 462.5 541.2 463.8 538.8 466.2 536.2 465 535 461.2 532.5 458.8Z M557.5 458.8 562.5 457.5 567.5 458.1 570 461.2 568.8 463.8 563.8 464.4 558.8 463.1Z M566.2 441.2 570 439.4 575 438.8 580 439.4 578.1 441.9 573.8 443.1 570 443.8 566.9 443.8Z M561.2 401.9 563.8 401.2 567.5 405 569.4 408.1 567.5 408.8 564.4 406.2 561.9 403.8Z M551.2 405.6 555 405 556.2 407.5 552.5 408.1Z M585.6 425 587.5 426.9 590 430 593.8 430.6 592.5 432.5 588.8 432.5 586.2 429.4Z M518.8 377.5 520.6 372.5 525 369.4 530 366.9 535 366.2 538.8 368.1 541.2 371.2 543.1 369.4 545.6 368.1 550 366.9 553.8 365 556.2 366.9 555 370 551.2 371.2 547.5 372.5 544.4 374.4 542.5 377.5 540 380 537.5 382.5 538.8 386.2 541.2 390 538.8 393.1 535 394.4 530 395 525 394.4 521.2 393.1 518.8 390 520 386.2 523.1 383.8 525 380 523.8 376.2 521.2 377.5Z M545.6 368.1 548.8 363.8 552.5 362.5 556.2 364.4 560 366.9 562.5 365 565 361.9 568.1 362.5 570 365 567.5 367.5 563.8 368.1 561.2 370.6 562.5 373.8 565 376.2 563.1 377.5 560 375.6 557.5 373.1 555 371.2 551.2 371.9 548.1 371.2Z M541.2 381.2 545 379.4 550 380 553.8 381.9 556.2 384.4 555 385.6 551.2 383.8 547.5 382.5 543.8 383.8 541.9 383.1Z M571.9 370 575 368.1 577.5 370.6 578.1 375 580 377.5 577.5 378.1 575 376.2 573.1 373.1Z M578.1 360 580 361.2 580.6 365 581.9 370 583.8 375 582.5 375.6 580.6 371.2 579 365.6 577.8 361.9Z M586.2 357.5 588.1 358.8 589.4 363.1 591.9 368.1 590.6 368.8 588.1 364.4 586.5 360Z M597.5 365 600 361.2 602.5 357.5 604.4 355 605.6 356.2 603.8 360 601.2 364.4 598.8 366.9Z M603.8 350 606.2 347.5 608.1 346.2 608.8 347.5 606.9 350 604.8 351.9Z M644.4 351.2 646.9 348.1 649.4 346.2 651.2 346.9 650 350.6 647.5 353.1 645 353.8Z M635.6 363.1 638.8 360.6 641.2 358.8 641.9 359.8 639.4 362.2 636.5 364Z M605 383.1 608.8 382.5 612.5 383.8 617.5 383.1 622.5 381.9 627.5 381.2 630 382.5 626.2 384.4 621.2 385 616.2 386.2 612.5 386.9 608.8 385.6 605.6 385Z M581.2 393.8 585 391.9 587.5 393.8 586.9 398.1 583.8 400 581.2 398.1Z M588.8 391.2 592.5 390 595 392.5 592.5 395 589.4 394.4Z M600 396.9 603.8 393.8 607.5 391.2 610 390 611.2 391.9 608.1 395 604.4 398.1 601.2 399.4Z M575 413.8 578.8 411.2 583.8 410 588.8 408.8 593.8 406.9 598.8 403.8 603.8 402.5 607.5 403.8 608.1 406.9 605.6 409.4 601.2 411.2 596.9 413.8 591.9 415.6 586.9 416.9 581.2 416.2 576.9 415.6Z M623.1 412.5 626.2 410.6 630 408.1 633.8 406.2 636.9 406.9 637.5 410 634.4 411.9 630.6 412.5 626.2 413.8Z M586.2 425 588.8 427.5 592.5 429.4 595 431.2 593.1 433.1 589.4 432.5 586.9 429.4 585.4 426.2Z M541.2 432.5 543.8 427.5 547.5 426.2 549.4 428.8 548.8 433.1 546.2 436.2 542.5 435.6Z M525 435.6 528.1 433.1 531.2 431.9 530.6 434.4 528.1 436.9 525.6 437.8Z M568.1 440 572.5 438.1 577.5 438.8 580 440 576.9 441.9 572.5 443.1 568.8 442.5Z M528.8 456.9 533.8 452.5 540 451.2 546.2 450.6 550 447.5 553.8 448.8 555.6 452.5 555 456.9 552.5 460 530 460Z M551.2 405 555 403.8 558.8 405.6 557.5 408.1 553.1 408.1Z M561.2 401.9 563.8 401.2 567.5 405 569.4 408.1 567.5 408.8 564.4 406.2 561.9 403.8Z M557.5 428.1 560 429.4 561.9 433.1 560 433.8 558.1 431.2Z M644.4 351.9 646.2 348.1 649.4 346.2 650.6 348.1 649.4 351.2 646.9 353.8 645 353.8Z M662.5 351.2 664.4 349.4 665 351.2 663.5 352.8Z M635.6 362.5 638.8 360 641.9 357.5 642.5 358.8 639.4 361.9 636.2 363.8Z M663.1 377.5 665.6 373.1 668.8 370 671.2 369.4 670.6 372.5 668.1 375.6 665.6 378.8 663.8 379.4Z M620 381.2 623.8 380.6 627.5 381.2 626.2 385 622.5 386.2 620 385.6Z M622.5 412.5 626.2 410 631.2 407.5 636.2 406.9 637.5 408.8 633.8 411.9 628.8 413.1 623.8 413.8Z M755 434.4 757.5 431.2 759.4 430.6 758.8 433.8 756.2 436.2Z M625 349.4 626.9 348.1 626.9 351.2 625.2 352.5Z M755 435 756.9 432.5 759.4 431 760 432.5 758.1 435 755.6 436.9Z M740 440 743.8 439.4 745.6 440.6 743.8 443.8 740 445Z M758.8 450 761.2 446.9 765 444.4 768.8 441.9 772.5 440 773.1 441.2 770 444.4 766.9 447.5 763.1 450.6 760 451.9Z M740 453.1 745 452.5 748.8 454.4 747.5 458.8 743.8 460 740 460Z M751.2 458.1 755 456.2 758.8 455 758.1 457.5 754.4 459.8 751.9 460Z M745 440 743.1 443.8 740 446.2 738.1 450 735 451.9 731.2 453.8 727.5 457.5 723.8 461.2 720 463.8 716.2 465.6 712.5 466.9 710 468.8 707.5 472.5 706.2 476.2 702.5 478.8 699.4 481.2 697.5 482.5 696.2 480 697.5 476.2 700 472.5 702.5 468.8 706.2 465 710 463.8 715 461.9 720 458.8 725 455 730 450.6 735 446.2 738.8 443.1 741.9 440Z M732.5 461.9 735 458.8 738.8 457.5 742.5 456.2 743.8 453.1 746.2 451.9 748.8 453.1 748.1 456.9 746.2 458.8 750 460 753.8 457.5 757.5 454.4 760.6 450.6 761.2 446.9 763.8 445 767.5 443.1 771.2 441.2 773.1 440 774.4 440.6 771.2 443.8 767.5 446.2 763.8 448.8 762.5 452.5 759.4 456.2 755.6 460 751.9 463.1 747.5 464.4 743.8 465.6 740 466.9 737.5 469.4 734.4 467.5 732.5 465Z M721.2 478.8 723.8 476.2 726.9 475 727.5 476.9 725 479.4 721.9 480.2Z M685 488.8 687.5 486.2 691.2 485 693.8 486.9 691.9 489.4 688.8 491.2 686.9 493.8 687.5 496.2 685 498.8 682.5 501.2 680 503.8 676.2 506.2 672.5 508.8 668.8 511.2 666.2 513.8 662.5 516.2 658.8 518.1 656.2 519.4 657.5 516.2 661.2 513.8 665 510 669.4 506.2 672.5 502.5 675 499.4 678.8 496.9 682.5 495 683.8 492.5 681.2 493.8 681.9 491.9Z M702.5 497.5 705 493.8 707.5 490 710 487.5 713.1 485 715 482.5 715.6 484.4 713.8 488.1 711.2 491.2 708.1 495 705.6 498.1 703.1 500.6 700 502.5 696.2 505 693.1 507.5 690.6 509.4 691.2 511.9 689.4 511.2 688.8 508.8 692.5 505.6 696.2 503.1 700 500Z M636.2 528.1 640 525 643.8 522.5 647.5 519.4 651.2 515.6 653.8 513.8 654.4 516.2 651.9 519.4 648.8 521.9 645 525 641.2 526.9 638.1 529Z M657.5 520 662.5 516.2 667.5 515.6 672.5 516.9 674.4 520 673.1 523.1 669.4 522.5 666.2 520 662.5 521.2 659.4 522.5Z M655.6 536.2 656.9 532.5 660 529.4 663.8 526.9 668.1 525 672.5 525 671.9 528.1 669.4 531.2 665 534 660.6 536.5 656.9 537.8Z M625 490 628.8 488.1 632.5 488.8 635 491.2 638.8 490.6 642.5 489.4 646.2 488.1 650 486.2 651.2 488.1 649.4 491.2 645.6 492.5 641.9 493.1 638.8 494.4 635 495 632.5 497.5 631.2 501.2 629.4 502.5 628.1 499.4 626.2 496.2 624.4 493.8Z M620 493.8 623.8 493.1 625.6 496.2 625 500 622.5 502.5 620 503.1Z M626.9 498.8 630 498.1 632.5 500 630.6 502.5 628.8 506.2 627.5 503.8Z M620 538.8 622.5 536.2 624.4 535 625 536.9 623.1 540 621.2 542.5 620 543.8Z M740 440 743.8 440 741.2 443.1 740 444.4Z M740 456.2 743.8 455 746.2 452.5 748.8 453.8 747.5 457.5 750 458.8 753.8 457.5 756.2 455 758.8 452.5 760 448.8 762.5 446.2 766.2 443.8 770 441.2 771.2 440 773.8 440 771.2 443.1 767.5 446.2 763.8 449.4 761.2 452.5 760 456.2 757.5 459.4 753.8 461.9 750 463.8 746.2 465 742.5 466.9 740 468.1Z M547.5 515 550 511.2 553.8 508.8 558.8 507.5 563.8 508.1 567.5 509.4 571.2 508.8 575 506.9 578.8 507.5 580.6 505.6 581.9 508.1 583.1 511.9 581.2 515 578.8 516.9 577.5 520 575 521.2 572.5 518.8 570.6 522.5 567.5 524.4 566.9 528.8 565 531.2 562.5 527.5 563.8 523.8 560 522.5 555 520.6 551.2 519.4 548.1 517.5Z M587.5 515 588.8 508.8 592.5 503.8 596.2 498.8 598.8 493.8 600 491.5 602.5 492.5 603.8 496.2 607.5 497.5 611.2 493.8 615 491.2 620 490 620 511.2 615 513.8 611.2 513.1 608.8 511.2 605 513.8 601.2 517.5 597.5 520.6 593.8 520 590 518.1Z M597.5 535 601.2 532.5 605 533.8 610 535 613.8 532.5 617.5 528.8 620 527.5 620 545 616.2 543.8 613.8 540 611.2 542.5 608.8 546.2 606.2 551.2 603.8 551.9 603.1 546.2 601.2 542.5 598.8 540Z M571.2 548.8 575 546.9 578.8 545.6 582.5 545 585 546.9 587.5 550 585 551.2 580 550 575 549.8Z M592.5 542.5 595 540 596.2 543.8 594.4 546.2Z M600 490 617.5 490 618.8 493.8 621.9 496.2 625 495 626.9 492.5 628.8 490 633.8 490 632.5 493.8 630 497.5 631.2 501.2 629.4 505 626.9 507.5 630 508.8 631.9 511.2 628.8 511.9 625 510 622.5 507.5 620 508.8 620.6 512.5 617.5 514.4 612.5 513.1 607.5 512.5 603.8 514.4 600 515Z M600 532.5 605 535 607.5 540 611.2 543.8 613.8 542.5 616.2 537.5 618.8 532.5 620.6 528.8 621.9 530 621.2 535 618.8 540 616.2 545 613.8 548.8 610.6 550 607.5 547.5 606.2 551.2 603.8 551.9 602.5 547.5 600 545Z M612.5 527.5 615.6 526.2 617.5 528.8 615 531.9 612.5 531.2Z M636.2 527.5 640 523.8 645 520 650 516.2 653.8 513.8 657.5 511.2 661.2 507.5 665 504.4 668.8 501.9 672.5 499.4 676.2 496.9 680 495 683.8 492.5 686.2 493.1 685.6 497.5 682.5 500 678.8 503.1 675 505.6 671.2 507.5 667.5 509.4 663.8 511.9 660 514.4 656.2 517.5 652.5 519.4 648.8 521.2 645 523.1 641.9 525.6 638.8 528.1Z M654.4 535 656.2 531.2 660 527.5 663.8 525 667.5 523.1 670 520.6 672.5 519.4 674.4 521.9 673.1 525 669.4 527.5 665.6 530 661.9 533.1 658.1 536 655.6 536.5Z M668.1 516.9 670.6 515 673.8 513.1 675 515.6 673.1 518.8 670 519.4Z M700 497.5 702.5 493.8 706.2 490 710 490 707.5 493.8 705 496.9 702.5 500 700.6 500Z M688.8 510.6 692.5 507.5 696.2 504.4 700 501.9 701.2 503.1 698.1 506.2 694.4 509.4 690.6 512.5 689 512.2Z" fill="#84c5ee"/>
<path d="M320 525 320 368 372 368 375.9 386.6 382.1 383.5 390.4 382.5 398.8 380.4 404 378.4 407.5 378.8 412.5 378.1 415 375.6 417.5 376.2 420 376.9 425 377.5 430 376.2 433.8 375 436.2 373.8 438.1 375 437.5 378.1 440 379.4 442.5 378.1 443.1 375.6 446.2 375 450 375.6 452.5 373.8 455 375 456.9 377.5 458.8 380.6 460 380 460.6 375 463.8 376.2 466.2 380 467.5 383.8 468.8 385 470 381.2 470.6 377.5 473.8 376.2 477.5 376.9 481.2 375.6 485 373.8 488.8 371.2 492.5 370.6 496.2 371.2 500 372.5 503.8 373.8 507.5 373.8 510 371.9 513.8 371.2 516.2 372.5 520 373.8 520 373.8 516.2 374.4 512.5 375.6 511.9 378.8 513.8 381.2 512.5 385 510 387.5 506.2 389.4 503.8 391.2 505 395 508.8 396.2 512.5 397.5 515 398.8 512.5 400 510 400 507.5 405 510 408.8 508.8 412.5 511.2 415 515 416.2 512.5 418.8 509.4 420.6 508.8 423.8 511.2 426.2 510.6 430 507.5 431.9 502.5 432.5 497.5 433.8 495 435.6 491.2 435 486.9 433.1 483.8 434.4 481.2 437.5 483.1 441.2 487.5 443.1 492.5 445 497.5 445.6 502.5 446.2 507.5 446.9 509.4 449.4 506.9 452.5 506.2 456.2 508.1 460 511.2 462.5 513.8 465 512.5 467.5 509.4 466.2 506.2 464.4 503.8 466.2 502.5 470 503.1 473.8 501.2 475 498.8 471.2 497.5 468.1 495 467.5 493.1 470 491.9 475 490 478.8 488.1 475 486.9 470.6 485 466.2 482.5 465 480.6 468.1 480 473.8 478.1 477.5 475 475 472.5 476.2 471.2 480 468.8 477.5 469.4 472.5 467.5 470.6 465 472.5 463.8 476.2 460 477.5 457.5 476.2 453.8 477.5 450 480 446.2 481.9 448.8 483.8 453.8 483.1 456.2 485 453.8 487.5 455 490 455 495 453.8 498.8 450 501.9 445 503.8 440 502.5 436.2 503.8 440 505.6 437.5 507.5 433.8 506.9 428.8 508.1 425 510.6 423.8 513.8 420 515 418.8 511.9 416.2 510 414.4 512.5 413.8 516.2 417.5 519.4 417 530Z" fill="#6fbaea"/>
<clipPath id="bclip"><path d="M320 525 320 368 372 368 375.9 386.6 382.1 383.5 390.4 382.5 398.8 380.4 404 378.4 407.5 378.8 412.5 378.1 415 375.6 417.5 376.2 420 376.9 425 377.5 430 376.2 433.8 375 436.2 373.8 438.1 375 437.5 378.1 440 379.4 442.5 378.1 443.1 375.6 446.2 375 450 375.6 452.5 373.8 455 375 456.9 377.5 458.8 380.6 460 380 460.6 375 463.8 376.2 466.2 380 467.5 383.8 468.8 385 470 381.2 470.6 377.5 473.8 376.2 477.5 376.9 481.2 375.6 485 373.8 488.8 371.2 492.5 370.6 496.2 371.2 500 372.5 503.8 373.8 507.5 373.8 510 371.9 513.8 371.2 516.2 372.5 520 373.8 520 373.8 516.2 374.4 512.5 375.6 511.9 378.8 513.8 381.2 512.5 385 510 387.5 506.2 389.4 503.8 391.2 505 395 508.8 396.2 512.5 397.5 515 398.8 512.5 400 510 400 507.5 405 510 408.8 508.8 412.5 511.2 415 515 416.2 512.5 418.8 509.4 420.6 508.8 423.8 511.2 426.2 510.6 430 507.5 431.9 502.5 432.5 497.5 433.8 495 435.6 491.2 435 486.9 433.1 483.8 434.4 481.2 437.5 483.1 441.2 487.5 443.1 492.5 445 497.5 445.6 502.5 446.2 507.5 446.9 509.4 449.4 506.9 452.5 506.2 456.2 508.1 460 511.2 462.5 513.8 465 512.5 467.5 509.4 466.2 506.2 464.4 503.8 466.2 502.5 470 503.1 473.8 501.2 475 498.8 471.2 497.5 468.1 495 467.5 493.1 470 491.9 475 490 478.8 488.1 475 486.9 470.6 485 466.2 482.5 465 480.6 468.1 480 473.8 478.1 477.5 475 475 472.5 476.2 471.2 480 468.8 477.5 469.4 472.5 467.5 470.6 465 472.5 463.8 476.2 460 477.5 457.5 476.2 453.8 477.5 450 480 446.2 481.9 448.8 483.8 453.8 483.1 456.2 485 453.8 487.5 455 490 455 495 453.8 498.8 450 501.9 445 503.8 440 502.5 436.2 503.8 440 505.6 437.5 507.5 433.8 506.9 428.8 508.1 425 510.6 423.8 513.8 420 515 418.8 511.9 416.2 510 414.4 512.5 413.8 516.2 417.5 519.4 417 530Z M543.8 426.9 547.5 425.6 550 428.1 548.8 432.5 546.2 435.6 543.1 434.4 541.2 431.2Z M557.5 428.1 560 430 561.2 433.8 559.4 434.4 557.8 431.2Z M524.4 433.8 528.1 431.2 531.9 429.4 533.1 430.6 530 433.8 526.2 436.2 524.4 436.2Z M530 455.6 535 455 537.5 451.9 542.5 451.2 547.5 450 551.2 447.5 554.4 448.8 555.6 452.5 555 456.2 551.9 458.8 547.5 460 545 462.5 541.2 463.8 538.8 466.2 536.2 465 535 461.2 532.5 458.8Z M557.5 458.8 562.5 457.5 567.5 458.1 570 461.2 568.8 463.8 563.8 464.4 558.8 463.1Z M566.2 441.2 570 439.4 575 438.8 580 439.4 578.1 441.9 573.8 443.1 570 443.8 566.9 443.8Z M561.2 401.9 563.8 401.2 567.5 405 569.4 408.1 567.5 408.8 564.4 406.2 561.9 403.8Z M551.2 405.6 555 405 556.2 407.5 552.5 408.1Z M585.6 425 587.5 426.9 590 430 593.8 430.6 592.5 432.5 588.8 432.5 586.2 429.4Z M518.8 377.5 520.6 372.5 525 369.4 530 366.9 535 366.2 538.8 368.1 541.2 371.2 543.1 369.4 545.6 368.1 550 366.9 553.8 365 556.2 366.9 555 370 551.2 371.2 547.5 372.5 544.4 374.4 542.5 377.5 540 380 537.5 382.5 538.8 386.2 541.2 390 538.8 393.1 535 394.4 530 395 525 394.4 521.2 393.1 518.8 390 520 386.2 523.1 383.8 525 380 523.8 376.2 521.2 377.5Z M545.6 368.1 548.8 363.8 552.5 362.5 556.2 364.4 560 366.9 562.5 365 565 361.9 568.1 362.5 570 365 567.5 367.5 563.8 368.1 561.2 370.6 562.5 373.8 565 376.2 563.1 377.5 560 375.6 557.5 373.1 555 371.2 551.2 371.9 548.1 371.2Z M541.2 381.2 545 379.4 550 380 553.8 381.9 556.2 384.4 555 385.6 551.2 383.8 547.5 382.5 543.8 383.8 541.9 383.1Z M571.9 370 575 368.1 577.5 370.6 578.1 375 580 377.5 577.5 378.1 575 376.2 573.1 373.1Z M578.1 360 580 361.2 580.6 365 581.9 370 583.8 375 582.5 375.6 580.6 371.2 579 365.6 577.8 361.9Z M586.2 357.5 588.1 358.8 589.4 363.1 591.9 368.1 590.6 368.8 588.1 364.4 586.5 360Z M597.5 365 600 361.2 602.5 357.5 604.4 355 605.6 356.2 603.8 360 601.2 364.4 598.8 366.9Z M603.8 350 606.2 347.5 608.1 346.2 608.8 347.5 606.9 350 604.8 351.9Z M644.4 351.2 646.9 348.1 649.4 346.2 651.2 346.9 650 350.6 647.5 353.1 645 353.8Z M635.6 363.1 638.8 360.6 641.2 358.8 641.9 359.8 639.4 362.2 636.5 364Z M605 383.1 608.8 382.5 612.5 383.8 617.5 383.1 622.5 381.9 627.5 381.2 630 382.5 626.2 384.4 621.2 385 616.2 386.2 612.5 386.9 608.8 385.6 605.6 385Z M581.2 393.8 585 391.9 587.5 393.8 586.9 398.1 583.8 400 581.2 398.1Z M588.8 391.2 592.5 390 595 392.5 592.5 395 589.4 394.4Z M600 396.9 603.8 393.8 607.5 391.2 610 390 611.2 391.9 608.1 395 604.4 398.1 601.2 399.4Z M575 413.8 578.8 411.2 583.8 410 588.8 408.8 593.8 406.9 598.8 403.8 603.8 402.5 607.5 403.8 608.1 406.9 605.6 409.4 601.2 411.2 596.9 413.8 591.9 415.6 586.9 416.9 581.2 416.2 576.9 415.6Z M623.1 412.5 626.2 410.6 630 408.1 633.8 406.2 636.9 406.9 637.5 410 634.4 411.9 630.6 412.5 626.2 413.8Z M586.2 425 588.8 427.5 592.5 429.4 595 431.2 593.1 433.1 589.4 432.5 586.9 429.4 585.4 426.2Z M541.2 432.5 543.8 427.5 547.5 426.2 549.4 428.8 548.8 433.1 546.2 436.2 542.5 435.6Z M525 435.6 528.1 433.1 531.2 431.9 530.6 434.4 528.1 436.9 525.6 437.8Z M568.1 440 572.5 438.1 577.5 438.8 580 440 576.9 441.9 572.5 443.1 568.8 442.5Z M528.8 456.9 533.8 452.5 540 451.2 546.2 450.6 550 447.5 553.8 448.8 555.6 452.5 555 456.9 552.5 460 530 460Z M551.2 405 555 403.8 558.8 405.6 557.5 408.1 553.1 408.1Z M561.2 401.9 563.8 401.2 567.5 405 569.4 408.1 567.5 408.8 564.4 406.2 561.9 403.8Z M557.5 428.1 560 429.4 561.9 433.1 560 433.8 558.1 431.2Z M644.4 351.9 646.2 348.1 649.4 346.2 650.6 348.1 649.4 351.2 646.9 353.8 645 353.8Z M662.5 351.2 664.4 349.4 665 351.2 663.5 352.8Z M635.6 362.5 638.8 360 641.9 357.5 642.5 358.8 639.4 361.9 636.2 363.8Z M663.1 377.5 665.6 373.1 668.8 370 671.2 369.4 670.6 372.5 668.1 375.6 665.6 378.8 663.8 379.4Z M620 381.2 623.8 380.6 627.5 381.2 626.2 385 622.5 386.2 620 385.6Z M622.5 412.5 626.2 410 631.2 407.5 636.2 406.9 637.5 408.8 633.8 411.9 628.8 413.1 623.8 413.8Z M755 434.4 757.5 431.2 759.4 430.6 758.8 433.8 756.2 436.2Z M625 349.4 626.9 348.1 626.9 351.2 625.2 352.5Z M755 435 756.9 432.5 759.4 431 760 432.5 758.1 435 755.6 436.9Z M740 440 743.8 439.4 745.6 440.6 743.8 443.8 740 445Z M758.8 450 761.2 446.9 765 444.4 768.8 441.9 772.5 440 773.1 441.2 770 444.4 766.9 447.5 763.1 450.6 760 451.9Z M740 453.1 745 452.5 748.8 454.4 747.5 458.8 743.8 460 740 460Z M751.2 458.1 755 456.2 758.8 455 758.1 457.5 754.4 459.8 751.9 460Z M745 440 743.1 443.8 740 446.2 738.1 450 735 451.9 731.2 453.8 727.5 457.5 723.8 461.2 720 463.8 716.2 465.6 712.5 466.9 710 468.8 707.5 472.5 706.2 476.2 702.5 478.8 699.4 481.2 697.5 482.5 696.2 480 697.5 476.2 700 472.5 702.5 468.8 706.2 465 710 463.8 715 461.9 720 458.8 725 455 730 450.6 735 446.2 738.8 443.1 741.9 440Z M732.5 461.9 735 458.8 738.8 457.5 742.5 456.2 743.8 453.1 746.2 451.9 748.8 453.1 748.1 456.9 746.2 458.8 750 460 753.8 457.5 757.5 454.4 760.6 450.6 761.2 446.9 763.8 445 767.5 443.1 771.2 441.2 773.1 440 774.4 440.6 771.2 443.8 767.5 446.2 763.8 448.8 762.5 452.5 759.4 456.2 755.6 460 751.9 463.1 747.5 464.4 743.8 465.6 740 466.9 737.5 469.4 734.4 467.5 732.5 465Z M721.2 478.8 723.8 476.2 726.9 475 727.5 476.9 725 479.4 721.9 480.2Z M685 488.8 687.5 486.2 691.2 485 693.8 486.9 691.9 489.4 688.8 491.2 686.9 493.8 687.5 496.2 685 498.8 682.5 501.2 680 503.8 676.2 506.2 672.5 508.8 668.8 511.2 666.2 513.8 662.5 516.2 658.8 518.1 656.2 519.4 657.5 516.2 661.2 513.8 665 510 669.4 506.2 672.5 502.5 675 499.4 678.8 496.9 682.5 495 683.8 492.5 681.2 493.8 681.9 491.9Z M702.5 497.5 705 493.8 707.5 490 710 487.5 713.1 485 715 482.5 715.6 484.4 713.8 488.1 711.2 491.2 708.1 495 705.6 498.1 703.1 500.6 700 502.5 696.2 505 693.1 507.5 690.6 509.4 691.2 511.9 689.4 511.2 688.8 508.8 692.5 505.6 696.2 503.1 700 500Z M636.2 528.1 640 525 643.8 522.5 647.5 519.4 651.2 515.6 653.8 513.8 654.4 516.2 651.9 519.4 648.8 521.9 645 525 641.2 526.9 638.1 529Z M657.5 520 662.5 516.2 667.5 515.6 672.5 516.9 674.4 520 673.1 523.1 669.4 522.5 666.2 520 662.5 521.2 659.4 522.5Z M655.6 536.2 656.9 532.5 660 529.4 663.8 526.9 668.1 525 672.5 525 671.9 528.1 669.4 531.2 665 534 660.6 536.5 656.9 537.8Z M625 490 628.8 488.1 632.5 488.8 635 491.2 638.8 490.6 642.5 489.4 646.2 488.1 650 486.2 651.2 488.1 649.4 491.2 645.6 492.5 641.9 493.1 638.8 494.4 635 495 632.5 497.5 631.2 501.2 629.4 502.5 628.1 499.4 626.2 496.2 624.4 493.8Z M620 493.8 623.8 493.1 625.6 496.2 625 500 622.5 502.5 620 503.1Z M626.9 498.8 630 498.1 632.5 500 630.6 502.5 628.8 506.2 627.5 503.8Z M620 538.8 622.5 536.2 624.4 535 625 536.9 623.1 540 621.2 542.5 620 543.8Z M740 440 743.8 440 741.2 443.1 740 444.4Z M740 456.2 743.8 455 746.2 452.5 748.8 453.8 747.5 457.5 750 458.8 753.8 457.5 756.2 455 758.8 452.5 760 448.8 762.5 446.2 766.2 443.8 770 441.2 771.2 440 773.8 440 771.2 443.1 767.5 446.2 763.8 449.4 761.2 452.5 760 456.2 757.5 459.4 753.8 461.9 750 463.8 746.2 465 742.5 466.9 740 468.1Z M547.5 515 550 511.2 553.8 508.8 558.8 507.5 563.8 508.1 567.5 509.4 571.2 508.8 575 506.9 578.8 507.5 580.6 505.6 581.9 508.1 583.1 511.9 581.2 515 578.8 516.9 577.5 520 575 521.2 572.5 518.8 570.6 522.5 567.5 524.4 566.9 528.8 565 531.2 562.5 527.5 563.8 523.8 560 522.5 555 520.6 551.2 519.4 548.1 517.5Z M587.5 515 588.8 508.8 592.5 503.8 596.2 498.8 598.8 493.8 600 491.5 602.5 492.5 603.8 496.2 607.5 497.5 611.2 493.8 615 491.2 620 490 620 511.2 615 513.8 611.2 513.1 608.8 511.2 605 513.8 601.2 517.5 597.5 520.6 593.8 520 590 518.1Z M597.5 535 601.2 532.5 605 533.8 610 535 613.8 532.5 617.5 528.8 620 527.5 620 545 616.2 543.8 613.8 540 611.2 542.5 608.8 546.2 606.2 551.2 603.8 551.9 603.1 546.2 601.2 542.5 598.8 540Z M571.2 548.8 575 546.9 578.8 545.6 582.5 545 585 546.9 587.5 550 585 551.2 580 550 575 549.8Z M592.5 542.5 595 540 596.2 543.8 594.4 546.2Z M600 490 617.5 490 618.8 493.8 621.9 496.2 625 495 626.9 492.5 628.8 490 633.8 490 632.5 493.8 630 497.5 631.2 501.2 629.4 505 626.9 507.5 630 508.8 631.9 511.2 628.8 511.9 625 510 622.5 507.5 620 508.8 620.6 512.5 617.5 514.4 612.5 513.1 607.5 512.5 603.8 514.4 600 515Z M600 532.5 605 535 607.5 540 611.2 543.8 613.8 542.5 616.2 537.5 618.8 532.5 620.6 528.8 621.9 530 621.2 535 618.8 540 616.2 545 613.8 548.8 610.6 550 607.5 547.5 606.2 551.2 603.8 551.9 602.5 547.5 600 545Z M612.5 527.5 615.6 526.2 617.5 528.8 615 531.9 612.5 531.2Z M636.2 527.5 640 523.8 645 520 650 516.2 653.8 513.8 657.5 511.2 661.2 507.5 665 504.4 668.8 501.9 672.5 499.4 676.2 496.9 680 495 683.8 492.5 686.2 493.1 685.6 497.5 682.5 500 678.8 503.1 675 505.6 671.2 507.5 667.5 509.4 663.8 511.9 660 514.4 656.2 517.5 652.5 519.4 648.8 521.2 645 523.1 641.9 525.6 638.8 528.1Z M654.4 535 656.2 531.2 660 527.5 663.8 525 667.5 523.1 670 520.6 672.5 519.4 674.4 521.9 673.1 525 669.4 527.5 665.6 530 661.9 533.1 658.1 536 655.6 536.5Z M668.1 516.9 670.6 515 673.8 513.1 675 515.6 673.1 518.8 670 519.4Z M700 497.5 702.5 493.8 706.2 490 710 490 707.5 493.8 705 496.9 702.5 500 700.6 500Z M688.8 510.6 692.5 507.5 696.2 504.4 700 501.9 701.2 503.1 698.1 506.2 694.4 509.4 690.6 512.5 689 512.2Z"/></clipPath>
<g clip-path="url(#bclip)"><rect x="330" y="280" width="540" height="320" filter="url(#texb)"/><path d="M415 450 450 440 480 455 485 490 470 515 440 520 420 500Z M545 505 575 500 585 520 560 525Z M600 500 618 496 618 520 600 518Z M360 470 390 465 400 490 370 500Z" fill="#a9d8f7" filter="url(#bl3)" opacity="0.9"/></g>
<path d="M372.5 367.5 382.2 367.5 383.1 371 378.8 372.2 379 375.6 385 377.5 387.2 380 380.6 384 376 386.5 376.5 392 376 395 373.5 400 370 406 366 411 360 413.8 360 367.5Z M421.2 381.2 425 380.6 428.1 383.8 431.9 383.1 433.8 385.6 436.2 388.8 440 390.6 445 391.2 448.1 392.5 448.8 395 445 396 440 395.6 435 393.8 431.9 391.2 428.8 388.8 425 386.2 421.9 383.5Z M451.9 392.5 455 391.9 456.9 393.8 455 395 452.2 394.4Z M412.5 389.4 416.2 389.4 416.2 391.9 412.5 391.9Z M486.2 388.1 491.2 387.5 496.2 388.8 501.2 389.4 506.2 390.6 508.8 392.5 506.2 394.4 501.2 395 497.5 393.8 492.5 392.5 487.5 391.2 485.6 390Z M466.9 388.8 470.6 388.1 473.1 390 471.2 391.9 467.5 391.2Z M476.2 388.8 483.1 387.8 483.8 389.4 476.9 390.2Z M436.2 406.9 440 405 445 405 450 404.4 455 403.8 460 403.1 465 404.4 468.8 405 472.5 401.9 477.5 400 483.8 398.8 490 398.1 493.8 400 493.1 403.8 490 405.6 485 406.9 480 406.2 475 405.6 471.2 406.2 466.2 406.9 460 407.5 455 407.5 450 408.1 447.5 410.6 446.2 414.4 442.5 415 438.8 413.8 436.5 410.6Z M396.2 410.6 400 409.8 403.8 410.6 407.5 410 410 406.2 412.5 406.2 415 410 415 415 412.5 417.5 408.8 416.9 405 417.5 402.5 420 398.8 419.4 396.9 416.2Z M420 409.4 423.8 408.8 427.5 410.6 428.1 415 425.6 417.5 421.9 417.5 420 414.4Z M411.9 431.9 416.2 430.6 420.6 431.9 421.9 435 418.8 437.5 414.4 437.5 411.9 435Z M464.4 431.2 468.8 429.4 473.8 428.8 477.5 430.6 478.8 434.4 476.2 437.5 471.2 438.8 466.9 437.5 464.4 435Z M438.8 433.8 441.9 433.8 441.9 436.2 438.8 436.2Z M489.4 373.8 495.6 374.4 492.5 379.4Z M471.2 376.9 477.5 375.6 483.8 376.2 483.1 378.1 477.5 378.8 472.5 379.4Z M443.8 480.6 446.9 480.6 446.9 482.5 443.8 482.5Z M463.1 465 466.2 465 466.2 467.5 463.1 467.5Z M531.9 373.1 536.2 373.1 536.2 377.5 531.9 377.5Z" fill="#ffa078" stroke="#a6e24f" stroke-width="1.3" stroke-linejoin="round"/>
<path d="M450 438.8 455 438.8 455 442.5 450 442.5Z M476.2 441.2 482.5 441.2 482.5 445 476.2 445Z M442.5 430 445 430 445 431.9 442.5 431.9Z M476.2 380.6 478.8 380.6 478.8 383.1 476.2 383.1Z M368.8 469.4 375 469.4 375 472.5 368.8 472.5Z M351.2 504.4 360 504.4 360 507.5 351.2 507.5Z M372.5 477.5 375 477.5 375 479.4 372.5 479.4Z M632.5 380.6 636.2 380 637.5 381.9 633.8 383.1Z M643.8 381.2 650 380 651.9 381.9 646.2 383.8Z M631.9 381.2 635.6 379.4 637.5 381.2 635 383.8 632.5 383.1Z M645 381.2 650 380 650.6 381.9 646.9 384.4 645 383.8Z" fill="#58dc4e" filter="url(#bl1)"/>
<path d="M380.6 391.2 383.8 391.2 383.8 394.4 380.6 394.4Z M396.9 424.4 400.6 424.4 400.6 428.1 396.9 428.1Z M388.1 440 393.1 440 393.1 444.4 388.1 444.4Z M367.5 436.9 372.5 435 377.5 435.6 380.6 438.1 378.8 440 373.8 438.8 369.4 439Z M457.5 443.1 461.2 443.1 461.2 446.2 457.5 446.2Z M452.5 445 455.6 445 455.6 446.9 452.5 446.9Z M458.8 450 461.2 450 461.2 451.9 458.8 451.9Z M445 450.6 447.5 450.6 447.5 452.5 445 452.5Z M438.8 493.1 441.2 493.1 443.8 495.6 443.1 497.2 440.6 496.2Z M388.1 440 393.1 440 393.1 444.4 388.1 444.4Z" fill="#f4e45a" stroke="#7ee055" stroke-width="1.6" stroke-linejoin="round" filter="url(#bl05)"/>
</g>
<path d="M360 312 387.8 312 388.7 320 391.3 329.5 397.1 347 401.1 361.5 404.6 375 406 379.5 399 380.5 394 383.5 386 384.5 380 383 376 379 373 372 370 366.5 360 366Z M433.4 338.9 438.1 338.1 442.8 340.5 447.5 342.8 452.2 343.6 455.3 345.2 451.4 346.2 446.7 345.2 442.8 343.6 438.1 342.5 435 341.2Z M435 349.1 439.7 348.8 441.2 351.4 437.3 352.2 435 350.9Z M438.9 353.8 442.8 354.5 447.5 356.1 446.7 358.4 442.8 357.2 439.4 356.1Z M430.3 365.5 435 363.9 438.9 364.7 438.1 367.8 434.2 369.4 430.6 367.8Z M458.4 345.2 464.7 343.6 470.9 342.8 477.2 342.8 478.8 345.9 483.4 347.5 488.9 345.9 492.8 347.5 495.9 350.6 500.6 351.4 506.9 350.6 513.1 352.2 519.4 355.3 522.5 358.4 519.4 361.6 513.1 362.3 506.9 363.1 500.6 363.9 494.4 364.7 488.1 366.2 483.4 367.8 480.3 366.2 478.8 363.1 481.9 360.8 480.3 357.7 475.6 355.3 472.5 352.2 467.8 351.4 464.7 349.1 460 347.5Z M464.7 354.5 469.4 353.8 473.3 356.9 474.1 360 470.9 361.6 467.8 359.2 465.5 356.9Z M451.4 335 458.4 333.4 464.7 331.9 467.8 332.7 464.7 335 460 336.2 455.3 337.3 452.2 336.9Z M477.2 328.8 483.4 328 489.7 330.3 486.6 332.7 480.3 331.9Z M513.9 336.6 518.6 335.8 522.5 338.9 527.2 340.5 528 343.6 522.5 344.4 517.8 342 514.7 339.7Z M443.6 330.3 445.3 330.3 445.3 331.7 443.6 331.7Z M497.5 330.3 499.8 330.3 499.8 331.9 497.5 331.9Z M456.2 478.8 461.2 478.1 462.5 481.2 457.5 481.9Z M461.2 485 466.2 483.8 471.2 483.1 475 484.4 473.8 488.1 471.2 491.2 466.2 491.9 462.5 490 461.2 487.5Z M426.9 514.4 430.6 514.4 431.9 517.5 428.1 518.1Z M532.5 405 535.6 403.8 537.5 406.2 535 408.8 532.8 407.5Z M511.2 450 515 448.1 520 448.8 525 450 528.1 452.5 528.8 456.2 530.6 460 531.9 463.8 530 466.2 525 467.5 521.2 466.9 518.1 463.8 516.2 460 515 455.6 512.5 453.1Z M461.2 485 466.2 483.8 471.2 485.6 473.8 488.8 471.9 491.9 467.5 492.5 463.8 491.2 461.2 488.8Z M495 496.2 497.5 491.2 501.2 486.2 505 482.5 510 480.6 511.2 481.9 507.5 485 503.8 488.8 500 493.8 496.9 497.5Z M513.8 490 518.8 486.2 525 483.8 530 481.2 535 478.8 541.2 476.9 547.5 476.2 550 478.8 548.8 482.5 552.5 481.2 557.5 480 560 482.5 557.5 486.2 553.8 488.8 550 491.2 546.2 493.8 541.2 495 536.2 496.2 531.2 498.8 528.8 496.2 525 492.5 520 491.9 516.2 491.9Z M518.8 471.2 523.8 470 527.5 468.1 531.2 468.1 535 470 540 468.8 542.5 470 540 472.5 535 473.8 530 475 525 475.6 520 475Z M547.5 468.1 551.2 467.5 553.8 470 555.6 473.8 553.8 475 550.6 472.5 548.1 470.6Z M570 447.5 575 445.6 581.2 443.8 586.2 442.5 591.2 441.9 596.2 442.5 601.2 441.9 606.2 442.5 610 441.9 615 440.6 620 440 620 457.5 615 458.8 610 456.2 605 455 600 453.8 595 453.1 590 452.5 585 451.9 580 451.2 575 450.6 571.2 449.4Z M585.6 438.8 590 438.1 595 438.8 597.5 440.6 592.5 441.2 587.5 441Z M562.5 468.1 567.5 467.5 572.5 466.9 577.5 465 582.5 462.5 587.5 461.2 592.5 460.6 597.5 460 603.8 458.8 610 459.4 616.2 460 620 458.8 620 473.8 615 475 610 473.8 605 475 600 476.2 595 475 590 473.8 585 475 580 477.5 576.2 481.2 572.5 486.2 568.8 491.2 565 495 560 497.5 555 496.2 551.2 493.8 555 490 560 486.2 563.8 482.5 566.2 478.8 568.8 475 566.2 471.2Z M606.2 417.5 610 416.2 613.8 418.1 614.4 420.6 610 421.2 606.9 420Z M569.4 430.6 572.5 430 573.8 431.9 570.6 433.8Z M500 351.2 505 350.6 510 351.2 512.5 354.4 516.2 357.5 520 360 523.8 361.9 521.2 363.8 516.2 364.4 511.2 363.8 506.2 363.1 500 361.9Z M520.6 358.8 525 357.5 530 356.9 535 358.1 540 360 542.5 361.9 538.8 362.5 533.8 361.2 528.8 360.6 523.8 360.6Z M516.9 340 527.5 340 526.9 342.5 522.5 343.8 518.1 342.5Z M531.9 343.1 536.2 342.5 541.2 343.8 543.8 345.6 540 346.9 535 346.2 532.2 345Z M575.6 345 578.8 345.6 579 348.8 576.5 348.5Z M593.1 353.1 595 350 597.5 346.9 600 346.2 600.6 348.1 598.8 351.9 596.2 355.6 593.8 356.9Z M558.8 387.5 562.5 385.6 566.2 386.2 568.8 388.8 571.2 392.5 572.5 396.2 570 396.9 566.2 395.6 562.5 393.8 559.4 391.2Z M538.8 397.5 542.5 396.2 547.5 395 552.5 394.4 553.8 396.9 550 398.8 545 400 540 400Z M546.2 373.8 549.4 373.1 551.2 375.6 550 378.1 547.2 376.9Z M531.9 404.4 535.6 403.8 537.5 406.2 535 408.8 532.2 407.5Z M577.5 383.1 581.2 381.2 585 381.9 583.8 383.8 580 385Z M606.9 417.5 610.6 416.9 613.8 418.8 611.2 420.6 607.5 420Z M569.4 430.6 573.1 429.4 575 431.2 571.9 433.8 569.4 433.1Z M637.5 402.5 641.2 398.8 646.2 395 651.2 391.9 656.2 390.6 660 390 660 395 656.2 396.2 652.5 398.8 648.8 401.2 645 403.8 643.8 406.2 640 405.6Z M655 357.5 660 356.2 660 360 656.2 360.6Z M643.8 357.5 648.1 356.2 650 358.8 646.2 360.6Z M570 446.2 575 445 580 443.1 586.2 438.8 590 438.8 592.5 441.2 598.8 441.9 603.8 440 606.2 441.2 605 445 600 447.5 595 450 590 451.2 585 452.5 580 451.9 575 450.6 571.2 448.8Z M608.8 448.8 612.5 445 617.5 441.2 622.5 437.5 627.5 433.8 632.5 431.9 631.2 435 627.5 438.8 625 442.5 630 440 635 437.5 640 436.9 645 436.2 650 435.6 655 433.8 660 430.6 660 447.8 656.9 451 653.8 453.2 647.5 453.2 642.8 452.5 639.8 450.5 633.4 451.8 629.5 452.5 625.6 455.6 622.5 454 619.4 452.5 613 452.5 611.9 450.6Z M511.2 451.2 516.2 448.8 521.2 448.1 525 450 528.8 452.5 530 456.9 527.5 460 512.5 460Z M666.2 355 670 351.2 673.8 348.8 677.5 348.1 677.5 350.6 673.8 353.1 670 356.2 667.5 357.5Z M655 358.8 660 357.5 665 356.9 665.6 359.4 661.2 360.6 656.2 361.2Z M644.4 357.5 648.8 356.2 651.2 356.9 648.1 360 645 360.6Z M683.1 345.6 686.9 345 687.5 346.9 683.8 347.5Z M691.9 381.2 696.2 377.5 700 373.8 703.8 368.8 706.2 369.4 707.5 372.5 711.2 373.8 717.5 373.1 723.8 372.5 728.8 368.8 732.5 366.9 733.8 368.1 730 372.5 726.2 375.6 720 376.2 713.8 376.2 708.8 377.5 705 375.6 701.2 378.8 696.2 382.5 692.5 383.1Z M638.8 403.8 642.5 400 646.2 396.2 645 393.1 648.8 391.2 655 390.6 661.2 388.1 667.5 386.2 673.8 384.4 680 383.1 685 382.5 686.9 385 686.2 389.4 685 393.8 681.9 394.4 677.5 391.2 672.5 390 667.5 392.5 662.5 395 657.5 396.9 652.5 398.8 648.8 401.2 645 403.8 642.5 406.2 640 406.2Z M620 390 625 388.8 627.5 391.2 623.8 393.8 620 393.8Z M620 400 623.8 398.8 625.6 401.2 622.5 405 620 406.2Z M622.5 345 626.2 344.4 626.9 346.2 623.1 346.9Z M629.4 346.9 633.8 346.2 634 347.8 630 348.5Z M662.5 433.1 667.5 428.8 673.1 426 675 423.8 671.2 418.8 673.8 416.9 678.8 418.8 685 417.5 690 415 695 412.5 700 410 706.2 407.5 712.5 405 717.5 402.5 722.5 400 727.5 397.5 731.2 395 737.5 392.5 743.8 390.6 750 388.1 752.5 388.8 746.2 392.5 740 395 745 395 752.5 393.8 760 391.2 767.5 390 775 388.1 780 386.9 780 395 777.5 396.2 775.6 400 773.8 405 770 410 766.2 412.5 762.5 415 757.5 416.2 752.5 418.8 747.5 420 742.5 418.8 737.5 420 733.8 423.8 731.2 427.5 727.5 431.2 723.8 433.1 718.8 432.5 715 433.8 712.5 437.5 710 440 675 440 673.8 435 670 433.8 665 434.4Z M767.5 431.9 770 430 773.8 431.9 775 434.4 770 434.4Z M762.5 381.9 766.2 380 770 378.8 769.4 380.6 765 382.5Z M620 432.5 625 430 630 431.2 632.5 433.1 628.8 436.2 625 438.8 620 440Z M836.2 397.5 840 391.9 841.2 392.5 840 400 838.8 405 835 406.9 833.1 405 834.4 401.2Z M821.9 398.8 823.8 393.8 826.2 395 825 398.8 827.5 401.2 830 402.5 827.5 406.2 822.5 406.9 817.5 407.5 816.9 405.6 820 404.4 821.2 401.9Z M843.8 396.9 848.8 397.5 851.2 398.8 851.9 400 846.2 398.8Z M865 419.4 847.8 419.4 845.6 421.2 843.8 420 841.9 422.5 840 421.2 836.2 418.1 833.8 415 835 413.8 837.5 415.6 841.2 416.5 846.2 413.8 850 411.9 851.9 410 865 410Z M740 393.1 747.5 390.6 755 389.4 765 388.8 777.5 387.2 783.1 387.2 781.2 390.6 776.2 395 770 397.5 765 400 763.1 405 762.5 410 760 414.4 755 416.5 747.5 417.8 740 421.9Z M772.5 450 777.5 446.2 782.5 442.5 787.5 439.4 792.5 437.5 790 433.8 786.2 429.4 790 425 795 424.4 800 425.6 805 422.5 810 418.8 815 418.1 817.5 420 820 416.2 822.5 412.5 826.2 410 828.8 410.6 827.5 415 826.2 420 827.5 425 826.2 427.5 821.2 428.1 816.2 429.4 812.5 431.9 817.5 432.5 818.1 436.2 815 439.4 810 440 805 438.8 800 438.8 795 440 790 442.5 785 446.2 780 449.4 775 451.9Z M768.1 433.1 770.6 430 773.8 432.5 775 434.4 770 434.4Z M788.1 380 791.2 378.1 793.8 379.4 791.9 381 788.8 381.2Z M797.5 373.8 798.8 371.2 800.2 372.2 799 374.8Z M763.1 381.9 766.9 380 770 379 769.8 380.6 766.2 382.5 763.5 383.1Z M828.8 438.8 832.5 438.1 836.2 439.4 836.9 441.9 832.5 443.1 829.4 441.2Z M824.4 451.2 827.5 450.6 828.1 452.5 825.6 453.8Z M805 460 810 454.4 815 449.8 820 446.2 825 444.8 830 444.8 835 445 842.5 444 865 444 865 460Z M780 560 667.5 560 668.8 556.2 673.8 552.5 675.6 547.5 674.4 542.5 673.8 537.5 675 533.8 676.2 530 678.8 526.2 681.2 522.5 685 521.2 688.8 518.8 692.5 516.2 696.2 515 700 512.5 702.5 510 706.2 508.8 710 506.2 713.8 503.8 717.5 502.5 718.8 498.8 720 495 722.5 491.2 726.2 488.8 731.2 486.2 735 483.8 740 482.5 745 480 748.8 477.5 752.5 475 755 471.2 758.8 465 761.2 460 763.8 463.8 770 461.2 777.5 463.8 780 467.5Z M633.8 476.2 636.2 471.2 640 468.1 645 466.9 644.4 469.4 641.2 472.5 638.8 475.6 635.6 476.9Z M636.2 505 640 501.2 645 498.1 650 496.2 654.4 496.9 656.2 500 653.8 503.1 650 505 645 506.2 641.2 507.5 637.5 507.5Z M655 505 658.8 501.2 661.9 500.6 662.5 502.5 659.4 505.6 656.2 506.9Z M666.9 496.2 668.8 495 669.4 497.5 667.5 498.8Z M678.1 482.5 680 480.6 681.2 483.8 679.4 485Z M705 481.2 707.5 478.8 710.6 478.1 711.2 481.2 708.8 483.8 705.6 483.8Z M622.5 517.5 625 513.8 627.5 512.5 628.8 515 626.2 520 623.8 522.5 625 526.2 622.5 530 620 531.2 620 520Z M631.2 540 633.8 536.2 637.5 533.8 640.6 533.1 640 536.2 637.5 540 634.4 541.9 631.9 541.9Z M630.6 550 632.5 546.2 635.6 545.6 636.2 548.8 633.8 551.9 631.2 552.5Z M620 555.6 622.5 555 623.8 557.5 621.9 560 620 560Z M693.8 493.8 695 491.9 696.2 493.8 695 496.2Z M740 481.2 743.8 478.8 747.5 475 752.5 471.2 757.5 468.8 760.6 466.2 760 461.2 763.1 458.8 765 462.5 766.9 465 771.2 462.5 776.2 460.6 778.8 463.8 781.2 466.9 785 468.8 788.1 468.1 790 463.8 793.8 461.2 797.5 458.8 802.5 456.2 807.5 453.8 812.5 451.2 817.5 448.8 822.5 446.2 827.5 443.8 830 441.2 831.9 443.8 843.8 443.8 852.5 443.8 852.5 560 740 560Z M770.6 452.5 773.8 449.4 778.8 446.9 783.8 444.4 786.9 443.8 785 446.9 781.2 448.8 777.5 451.2 773.8 453.1Z M490 528.8 492.5 525.6 497.5 524.4 501.2 522.5 502.5 526.2 501.2 530 503.8 532.5 507.5 533.8 512.5 531.2 515 527.5 520 523.8 525 521.2 530 519.4 535 520 538.8 523.1 540 527.5 537.5 529.4 532.5 528.8 527.5 529.4 522.5 530 520 532.5 519.4 538.1 518.8 540 490 533.8Z M553.1 533.8 558.8 533.1 563.8 531.9 568.8 527.5 572.5 523.8 577.5 522.2 580.6 525 583.8 527.5 588.8 525.6 593.8 523.1 598.8 520 603.8 516.9 608.8 514.4 613.8 515.6 620 515.6 620 525.6 616.2 526.2 611.9 529.4 607.5 531.9 602.5 531.2 598.1 533.1 595.6 536.9 591.2 537.5 587.5 534.4 583.1 533.1 580.6 536.9 576.9 539.4 572.5 541.9 568.8 545 567.5 548.8 553.1 545.6Z M495.6 495.6 496.9 490 501.2 490 500.6 493.8 497.5 496.2Z M529.4 490 546.2 490 545 493.8 541.2 496.2 535 498.1 531.2 497.5 530 493.8Z M556.2 490 580 490 578.1 493.8 573.8 495.6 568.8 493.8 563.8 496.2 560 499.4 557.5 498.8 556.9 495Z M760 490 760 585 657.5 563.8 658.8 560 658.1 555 658.8 550 660 546.2 662.5 542.5 666.2 538.8 670 536.2 672.5 532.5 675 530 677.5 526.2 680 522.5 683.8 520 687.5 517.5 691.2 516.2 695 515 698.8 513.8 702.5 511.2 705 507.5 708.8 508.8 712.5 505 717.5 500 720 496.2 725 493.8 730 492.5 733.8 490Z M633.8 505.6 637.5 502.5 642.5 500 647.5 497.5 652.5 496.2 655 497.5 655.6 501.2 652.5 505 647.5 506.2 642.5 506.9 637.5 507.5Z M655 501.2 658.8 499.4 662.5 500 660 502.5 656.2 503.8Z M600 518.8 603.8 517.5 608.8 515 613.8 514.4 617.5 515 616.2 518.8 612.5 522.5 608.8 526.2 605 528.8 600 530Z M623.1 525 624.4 520 626.9 517.5 628.8 518.8 628.1 523.8 629.4 527.5 626.9 530 624.4 528.8Z M631.2 538.8 633.8 535.6 637.5 533.8 640.6 533.1 640 536.2 637.5 539.4 633.8 541.2 631.5 541Z M630.6 547.5 633.8 545 637.5 545.6 636.9 548.8 633.8 550 631.2 549.8Z M652.5 551.2 655 549.4 656.2 550.6 654.4 552.5Z M667.5 496.2 669.4 495 670 496.9 668.1 497.8Z M646.9 531.2 648.8 530 649.4 531.9 647.5 532.5Z M720 500 880 500 880 620 720 620Z M610 443.9 614.7 440.8 620.2 438.4 625.6 436.1 628.8 438.4 635.8 438.4 641.2 437.7 649.1 436.9 653.8 433 658.4 429.1 663.1 425.2 667.8 423.6 672.5 422.8 674.8 421.2 680.3 419.7 685 417.3 688.1 415.8 692.8 415 710 415 710 439.2 706.1 440 702.2 442.3 698.3 445.5 694.4 447 689.7 446.2 685 446.6 680.3 446.2 674.8 447 672.5 449.4 669.4 451.7 666.2 454.1 664.7 452.5 667.8 449.4 671.7 446.2 674.1 443.9 674.1 442.3 669.4 442.3 664.7 445.5 660.8 447.8 656.9 450.9 653.8 453.3 647.5 453.3 642.8 452.5 639.7 450.5 633.4 451.7 629.5 452.5 625.6 455.6 622.5 454.1 619.4 452.5 616.2 451.7 613.1 452.5 610 452.5Z M610 459.1 613.1 458.8 617 459.9 618.6 461.9 617.8 465 610 465Z M639.7 458.8 642.8 457.6 646.7 458.4 647.5 460.7 644.4 461.9 640.5 461.1Z M656.1 461.9 658.4 458.8 660 455.6 661.6 454.8 660.8 458.8 659.2 462.7 657.7 465 656.1 465Z M620 465 627.5 463.1 635 461.2 642.5 458.8 650 456.9 655 455 658.8 456.2 655 460 650 463.8 646.2 467.5 642.5 471.2 638.8 475 635 475.6 633.8 472.5 630 470 625 469.4 620 470Z" fill="#fff"/>
<g clip-path="url(#swc)">
<path d="M373.2 366.9 379 366.9 379.2 370 382.3 370.2 382.6 374.2 386.2 374.7 386.2 377.3 381 377.8 381 381.5 389.4 381.2 396.7 379.6 400.8 377.6 404 376.6 404.6 378.3 398.8 380.7 390.4 382.8 382.1 383.9 375.8 387 371.7 389.3 369.6 395 365.9 395 368.5 378.3 370.6 372.1Z M383.1 323.1 388.3 323.3 388.3 326.2 383.3 326Z M727.5 409.8 732.5 406.2 738.8 403.8 745 401.9 750 401.2 748.8 403.8 745 406.9 740 409 733.8 410.5Z M749.4 411.9 751.2 407.5 755 403.8 758.8 401.9 761.9 403.1 761.2 407.5 758.8 411.9 753.8 413.1Z M700 418.8 702.5 417.5 705 420 706.2 422.5 703.8 421.9 701.2 420.6Z M662.5 432.5 667.5 429.4 672.5 426.9 675 427.5 673.8 430 670 432.5 665 434.4Z M749.4 405 753.8 402.5 758.8 401.9 760 403.8 757.5 407.5 756.9 411.9 752.5 413.1 749.4 411.9Z M740 403.1 745 401.2 747.5 402.5 745 405 740 406.2Z M675 543.8 678.8 541.9 682.5 546.2 685 550 687.5 553.8 686.2 557.5 682.5 558.1 678.8 555 675.6 551.2 674.4 547.5Z M685 542.5 688.8 540 692.5 538.1 696.2 538.8 695.6 541.9 692.5 544.4 688.8 546.2 685.6 545.6Z M692.5 551.2 695 550.6 696.2 553.1 693.8 554.4Z M698.8 560 701.2 556.2 706.2 552.5 710 550 713.8 551.2 713.1 555 710 557.5 707.5 560Z M702.5 527.5 706.2 526.2 710 523.8 713.8 523.1 713.1 525.6 709.4 528.1 705 530 702.5 529.4Z M720 527.5 722.5 526.9 723.1 528.1 720.6 529Z M717.5 538.8 721.2 535 723.8 531.2 728.8 528.8 733.8 526.9 738.8 526.2 743.8 523.8 746.2 521.2 748.8 522.5 746.2 527.5 743.8 531.2 745 535 747.5 536.2 743.8 538.8 738.8 540 736.2 543.8 732.5 547.5 728.8 549.4 725 548.8 721.2 546.2 718.8 543.8 716.9 541.2Z M735 517.5 737.5 513.8 741.2 511.9 743.1 513.1 740.6 516.2 737.5 518.8Z M733.1 506.2 737.5 505 739.4 506.9 736.9 508.8 733.8 508.1Z M745 503.8 748.8 501.2 752.5 498.8 756.2 498.1 760 499.4 761.9 501.9 758.8 504.4 755 506.2 751.2 506.9 747.5 506.2Z M746.9 495 750 492.5 752.5 493.1 750.6 496.2 748.1 497.5Z M770 491.9 773.8 490.6 776.9 491.9 776.2 493.8 771.9 494Z M758.1 481.2 760.6 480.6 761.2 482.5 758.8 483.1Z M762.5 475.6 765 475 765.6 476.9 763.1 477.5Z M750 516.2 752.5 513.8 756.2 512.5 758.8 510 761.2 506.9 765 504.4 770 503.1 775 502.5 776.9 505 775 508.1 771.2 511.2 767.5 513.8 763.8 515 760 516.2 756.2 518.1 752.5 518.8Z M780 560 733.8 560 735 556.9 738.8 555 742.5 554.4 746.2 552.5 750 550 752.5 547.5 756.2 546.2 760 542.5 763.8 540 767.5 536.2 768.8 531.9 766.2 530 767.5 528.1 770 527.5 772.5 523.8 776.2 521.2 780 520Z M702.5 515 705 512.5 707.5 513.8 705.6 516.2Z M763.8 495 766.2 494.4 766.5 496.2 764 496.5Z M788.1 476.2 792.5 474.4 798.8 474.4 803.1 475.6 805.6 478.1 802.5 480 798.8 481.2 793.8 480.6 790 478.8Z M806.2 471.9 810 471.2 814.4 473.1 811.2 473.8 807.5 473.1Z M797.5 485.6 802.5 483.8 807.5 483.1 812.5 482.5 816.2 481.2 820 479.4 825 479.4 828.8 482.5 831.9 486.9 830.6 492.5 828.8 496.2 826.2 500 822.5 501.2 818.8 499.4 815 496.9 811.2 495 806.2 493.8 801.2 491.9 798.1 489.4Z M782.5 486.9 786.2 483.8 791.2 482.5 795.6 483.1 796.2 485.6 792.5 486.9 788.1 488.1 783.8 488.8Z M781.9 497.5 785 495 790 494.4 795 493.1 795.6 495.6 798.8 496.2 801.2 498.8 802.5 501.9 798.8 502.5 795 501.2 792.5 498.8 788.8 500 785 502.5 784.4 506.2 781.9 507.5 780 504.4 777.5 502.5 780 501.2 782.5 500Z M808.1 501.2 812.5 501 816.2 501.9 813.8 503.1 809.4 502.5Z M770.6 491.9 773.8 491 776.9 492.2 774.4 493.8 771.2 493.5Z M763.8 495.6 766.2 495 766.9 496.5 764.4 497Z M747.5 495 750 492.5 752.5 491.9 751.9 494.4 749.4 496.9 747.8 497.5Z M745 503.8 748.8 501.2 752.5 500 756.2 498.8 760 499.4 761.9 501.9 758.8 503.8 755 505 751.2 506.2 747.5 506.9 745.2 506Z M757.5 513.8 760 510 763.1 506.2 766.9 503.8 771.2 502.5 775 503.1 776.2 505.6 773.8 508.8 770 511.2 766.9 513.8 763.8 516.2 763.1 518.8 760.6 518.1 758.1 516.2Z M750 515 753.8 513.1 756.2 514.4 755 516.9 751.2 518.1Z M740 512.5 742.5 511.9 743.1 514.4 741.2 516.2 740 516.5Z M740 522.5 743.8 520 746.9 518.1 748.8 520 746.2 523.8 743.1 527.5 740 530Z M811.2 507.5 815 505 820 504.4 825 505 826.9 507.5 826.2 512.5 825 517.5 823.1 522.5 821.9 527.5 820 530 816.2 531.9 815 535 812.5 534.4 810 536.2 806.2 535.6 803.8 533.8 800 532.5 796.2 530 798.8 527.5 802.5 526.2 805 522.5 810 521.2 813.8 518.8 812.5 515 810.6 512.5Z M770 527.5 772.5 522.5 777.5 520 782.5 520.6 787.5 521.2 790 525 795 526.2 798.8 527.5 796.2 530 800 532.5 798.8 536.2 796.2 540 795.6 545 795 550 796.2 553.8 795 557.5 792.5 560 740 560 740 555 745 552.5 750 550 752.5 546.2 757.5 543.8 762.5 541.2 767.5 538.8 771.2 535 772.5 531.2Z M786.2 518.8 788.8 518.1 790 519.4 787.5 520Z M766.2 528.8 768.8 528.1 769.4 529.4 766.9 530Z M742.5 536.2 746.2 535.6 746.9 537.5 743.1 538.1Z M824.4 451.9 827.5 451.2 828.8 452.5 826.2 453.5Z M829.4 480 832.5 479.8 833.1 481.2 830 481.9Z M831.9 476.2 833.8 476 834 478.1 832.1 478.5Z M795 509.4 798.1 508.8 798.8 510 796.2 511Z M496.9 528.8 500 527.5 501.9 530 499.4 532.5 497.2 531.2Z M580 527.5 581.9 526.2 583.8 528.8 581.9 530Z M575 531.9 577.5 531.2 578.1 533.8 575.6 534.4Z M743.8 505 747.5 501.2 752.5 498.8 757.5 497.5 760 496.9 760 502.5 756.2 503.8 751.2 505 747.5 506.2 745 506.9Z M747.5 495 750 492.5 753.1 491.9 751.9 494.4 749.4 496.2Z M733.1 506.2 736.2 505 739.4 505.6 738.8 508.8 736.2 508.1Z M735.6 515.6 738.8 513.1 742.5 511.9 741.9 514.4 738.8 516.9 736.2 517.5Z M750 512.5 755 510 760 508.8 760 515 757.5 516.9 754.4 518.1 751.2 520 750 516.9Z M716.9 541.2 720 537.5 720.6 533.8 723.8 531.2 728.8 528.8 733.8 526.9 737.5 525 741.2 522.5 745 520 748.8 519.4 750 521.9 747.5 525 743.8 527.5 741.2 530 737.5 532.5 733.8 535 731.2 538.1 731.2 541.2 735 540 738.8 540.6 739.4 543.8 735.6 545.6 731.2 546.2 726.2 546.9 721.9 548.1 718.8 548.8 717.5 545Z M702.5 527.5 706.2 526.2 710 523.8 713.1 523.1 713.8 524.4 710.6 526.2 707.5 528.8 703.8 529.4Z M720 527.5 723.1 526.9 723.1 528.1 720.6 528.5Z M685.6 543.1 690 540 693.8 538.1 695.6 539.4 695 542.5 691.2 544.4 687.5 545Z M674.4 536.2 676.2 533.8 678.1 535 677.5 538.1 675 538.8Z M673.8 545 676.2 542.5 679.4 542.5 680 545.6 678.1 547.5 681.2 550 685 552.5 686.9 555.6 683.8 557.5 680.6 555 677.5 552.5 675 549.4Z M692.5 551.9 695 551 696.9 552.5 695 554 692.8 553.5Z M667.5 556.2 669.4 555 670 558.1 668.1 558.8Z M693.1 562.5 697.5 560 701.2 557.5 705 555 707.5 550.6 710 551.2 708.8 555 712.5 555 715 555.6 712.5 558.8 708.8 560.6 705 562.5 701.2 564.4 697.5 565 694.4 564.4Z M703.8 571.2 706.2 567.5 710 565 713.8 566.2 713.1 570 717.5 571.2 720 573.1 716.2 574.4 711.2 573.1 707.5 572.5Z M686.2 568.8 688.8 568.1 689 569.4 686.5 570Z M723.8 563.8 728.8 561.9 733.8 558.8 737.5 555 742.5 552.5 747.5 551.2 752.5 548.8 756.2 545 760 542.5 760 585 750 580 740 577.5 732.5 576.2 728.8 571.2 726.2 567.5Z M658.8 560.6 661.9 561.2 662.5 562.5 659.4 562.2Z M737.5 552.5 739.4 551.9 739.6 553.8 737.9 554Z M701.2 515 703.8 512.5 706.2 511.9 705.6 514.4 703.1 516.5Z M733.1 506.9 736.2 505.6 740 505 739.4 507.5 736.2 508.8 733.8 508.1Z M744.4 504.4 747.5 501.9 752.5 500.6 757.5 500 761.2 500.6 758.8 503.1 755 505 750 506.2 745.6 506.2Z M735 517.5 737.5 514.4 741.2 512.5 743.1 513.1 740.6 516.2 737.5 518.8Z M750 516.2 752.5 513.8 757.5 512.5 761.2 508.8 763.8 505.6 767.5 503.8 772.5 503.1 776.2 504.4 775.6 507.5 772.5 510 768.8 511.2 767.5 515 763.8 517.5 762.5 513.8 758.8 515 755 516.2 751.9 517.5Z M780 503.8 782.5 501.9 786.2 502.5 785 505.6 781.9 506.9Z M795 509.4 797.5 508.8 798.8 510 796.2 510.6Z M793.8 502.5 797.5 500.6 802.5 500 801.2 502.5 797.5 503.8Z M720 532.5 723.8 530 728.8 528.8 733.8 526.9 738.8 523.8 742.5 521.9 746.2 521.2 750 520.6 748.8 523.8 745 526.2 741.2 529.4 737.5 531.2 733.8 533.8 731.2 537.5 735 540 740 541.9 738.8 544.4 733.8 545 728.8 543.8 725 543.1 721.2 547.5 720 548.8Z M720 526.9 722.5 526.9 721.9 528.8 720 529.4Z M742.5 536.9 746.2 536 747.5 537.2 744.4 538.1Z M810 516.2 811.9 507.5 816.2 505 821.2 504.4 826.2 505.6 825.6 511.2 823.8 517.5 822.5 523.8 821.2 528.8 817.5 530 815 533.8 811.2 533.1 807.5 531.2 803.8 530 801.2 527.5 803.8 525 806.2 521.9 812.5 520.6 813.8 517.5Z M770 525 772.5 522.5 777.5 521.9 778.8 519.4 783.8 520 788.8 521.2 790 524.4 795 526.2 800 526.9 802.5 529.4 801.2 533.8 797.5 537.5 796.2 542.5 795 547.5 795.6 552.5 797.5 555 795 558.8 796.2 562.5 800 565 803.8 568.1 806.2 571.2 802.5 573.8 801.2 577.5 797.5 580 796.2 582.5 801.2 583.8 805.6 586.2 806.9 589.4 800 588.8 792.5 586.9 788.1 586.2 787.5 581.2 784.4 578.8 782.5 576.9 778.8 578.8 772.5 580 767.5 581.9 762.5 581.2 755 580.6 748.8 579.4 742.5 578.8 736.2 577.5 731.2 576.2 728.8 572.5 726.2 568.8 723.8 565 726.2 562.5 731.2 561.9 736.2 561.2 734.4 558.1 737.5 555.6 736.2 553.8 740 551.2 745 553.8 750 552.5 751.2 548.1 756.2 546.2 757.5 543.1 763.8 541.2 763.1 537.5 766.2 536.2 770 533.8 771.2 530 767.5 529.4Z M766.2 529.4 768.1 528.5 768.8 530 766.9 530.6Z M785 518.8 787.5 518.1 789.4 519.4 786.9 520Z M662.3 433 664.7 430.6 669.4 428.3 673.3 426.3 674.8 427.5 672.5 429.8 668.6 431.8 664.7 433.8Z M670.9 434.1 672.5 433.8 672.9 435.3 671.3 435.9Z M700.2 419.7 701.8 418.1 703.8 420.5 705.7 422.4 703.8 422.8 701.4 421.6Z M628 440.8 629.5 440 630.7 441.6 628.8 442Z M622.9 445.1 625.6 443.1 626.8 444.3 624.1 445.9Z M614.7 447.4 617 446.2 617.8 447.4 615.5 448.6Z" fill="#ffa078"/>
<path d="M380.5 330.4 386.2 330.4 386.2 338.8 381 338.8Z" fill="#ffb066"/>
<path d="M389.4 359.1 398.8 359.6 399.3 364.8 394.6 364.3 389.9 361.7Z M385.2 355.9 390.4 356.2 390.4 357.5 385.4 357.3Z M393.5 372.1 400.8 372.6 401.4 378.3 396.7 377.3 393.8 374.7Z M379 339.8 384.7 339.8 384.7 345 379.2 345Z M763.8 548.8 770 543.8 776.2 540.6 780 539.4 780 560 767.5 560 765 553.8Z M803.8 488.1 810 486.2 816.2 485.6 821.2 487.5 823.8 491.2 821.2 495 816.2 493.8 811.2 491.9 806.2 490Z M775 532.5 781.2 527.5 787.5 528.8 792.5 535 793.8 542.5 790 546.2 785 545 780 540 776.2 537.5Z M758.8 552.5 767.5 550 772.5 552.5 770 557.5 762.5 558.8Z M732.5 573.8 737.5 572.5 743.8 575 750 577.5 747.5 579.4 740 578.1 733.8 576.2Z M743.8 557.5 750 555 757.5 552.5 760 553.8 760 565 752.5 563.8 746.2 561.2Z M773.8 531.2 780 527.5 787.5 528.8 792.5 533.8 795 540 792.5 546.2 787.5 547.5 782.5 542.5 777.5 538.8 773.8 536.2Z M762.5 552.5 770 550 775 552.5 772.5 557.5 766.2 558.8 761.2 556.9Z M731.2 573.8 736.2 573.1 745 576.2 742.5 578.8 735 577.5Z" fill="#ffcf55" filter="url(#bl1)" opacity="0.85"/>
<path d="M768.8 546.2 772.5 545 773.8 547.5 771.2 550 769.4 548.8Z M781.2 552.5 783.8 551.9 785 556.2 783.1 560 781.2 557.5Z M736.2 570 741.2 569.4 742.5 571.2 737.5 571.9Z M756.2 575 760 574.4 760 576.2 756.9 576.5Z M755.6 573.8 758.8 571.2 763.8 570.6 767.5 572.5 765 575 761.2 576.2 757.5 576.2Z M771.9 574.4 775 573.8 775.6 576.9 772.5 577.5Z M776.9 557.5 780 555 782.5 551.2 785 552.5 786.2 556.2 783.8 558.8 780 560 777.5 559.8Z M770 545.6 772.5 545 775 547.5 772.5 548.1Z" fill="#fff"/>
</g>
<path d="M195.6 138 235 144.4 234.4 150 228.1 155.6 242.1 157.1 M243.4 112.1 248.1 115.3 250.9 120 250.9 125.6 249.1 129.4 250.9 133.1 254.7 135 254.7 139.7 251.9 143.4 248.1 145.3 245.3 145.3 246.2 149.1 243.4 151.9 242.5 156.6 239.7 161.2 235.9 161.2 235 165 232.2 166.9 233.1 170.6 230.3 170.6 229.4 175.3 226.6 178.1 226.6 180 224.7 180.9 221.9 181.9 220.9 185.6 218.1 184.7 218.1 188.4 215.3 192.2 212.5 193.1 211.6 196.9 208.8 197.8 208.8 201.6 205.9 202.5 206.9 207.2 203.1 207.2 202.2 212.8 204.1 215.6 201.2 217.5 203.1 221.2 200.3 224.1 201.2 227.8 199.4 230.6 200.3 236.2 203.1 239.1 200.3 243.8 198.4 244.7 197.5 248.4 M254.7 135 256.6 131.2 261.2 133.1 267.8 135 268.8 128.4 275.3 127.5 276.2 122.8 279.1 120 280 113.4 280.9 112.1 M280.9 118.1 285.6 117.2 289.4 119.1 296.9 121.9 302.5 118.1 305.3 120.9 310 119.1 311.9 114.4 317.5 120 321.2 116.2 325.4 112.1 M248.1 146.6 273.4 150.4 274.4 145.9 276.6 146.2 358.8 158.8 396.2 163.1 430 166.5 M226.6 179.6 266.9 185.6 316.6 192.8 341.9 195.4 365.3 197.8 379.4 194.1 403.8 197.8 408.4 200.6 410.3 206.2 430 208.5 M341.9 195.4 342.8 190.3 347.5 188.4 351.2 183.8 358.8 182.8 364.4 180 370 176.2 375.6 174.4 377.5 176.2 383.1 172.5 388.8 171.6 392.5 168.8 396.2 167.8 397.2 163.5 M358.8 158.8 368.1 155.6 375.6 149.1 383.1 145.3 392.5 139.7 M392.5 139.7 386.9 133.1 383.1 125.6 382.2 120 384.1 117.2 379.4 112.1 M384.1 117.2 388.8 116.6 392.5 112.1 M392.5 139.7 396.2 144.4 400 147.2 405.6 145.3 408.4 148.1 414.1 144.4 417.8 145.3 425.3 143.4 427.2 138.8 430 135 M365.3 197.8 359.7 204 367.2 210.9 370 211.9 372.8 221.2 378.4 227.8 385 237.2 385.9 241.9 392.5 248.4 393.4 256.9 398.1 264.4 399.1 271.5 M266.9 185.6 267.8 187.5 265 198.8 259.4 221.2 253.8 243.8 250 256.9 247.2 285 M316.6 192.8 317.5 217.5 319 244.7 321.2 253.1 323.1 257.8 319.4 262.5 317.5 268.1 317.5 275.6 316.6 285 M195.6 270.8 220.9 274.7 220.9 277.5 218.1 285 M400 148.1 406.6 145.3 408.4 147.2 413.1 144.4 418.8 145.3 425.3 143.4 426.2 139.7 431.9 133.1 434.7 127.5 439.4 118.1 446.9 122.8 453.4 113.4 457.2 112.1 M400 163.5 505 171.6 M400 196.9 406.6 198.8 409.4 202.5 410.3 206.2 431.9 208.1 452.5 232.5 M195.6 270.8 220.9 274.7 218.1 279.4 220 285 222.8 294.4 M249.1 270 247.2 292.5 246.2 295.3 M315.6 287.8 265 281.2 264.6 285.9 267.2 289.7 265.9 296.2 M316.6 270 315.6 279.4 317.5 287.8 318.4 294.4 372.8 304.7 373.4 309.4 375.6 309.4 375.6 300 379.4 299.1 387.8 301.9 M235 503.8 234.1 515 227.5 522.5 195.6 535.6 M195.6 578.8 201.2 575.9 205 577.8 208.8 584.4 204.1 585.3 199.4 585.3 195.6 586.6 M205 577.8 205.9 573.1 M208.8 584.4 205.9 590 206.9 595.6 204.1 599.4 203.1 605 195.6 604.1 M203.1 605 204.1 608.8 201.2 614.4 195.6 619.1 M313.8 669.4 310 670.3 302.5 671.2 295 672.2 291.2 673.1 287.5 673.5 283.8 674.6 280 673.1 275.3 670.3 271.6 670.3 269.7 675 270.6 680.6 272.5 684 272.1 690.9 266.9 692.2 260.3 696.6 254.7 702.2 248.1 705.9 242.5 708.8 239.1 710.2 237.8 705 234.1 700.3 230.3 697.5 227.5 701.2 226.6 706.9 220.9 708.8 216.2 706.9 212.5 705 M274 640.7 271 670.3 M212.5 634.1 210.6 639.4 217.2 645 227.5 645.9 236.9 645 242.5 643.1 243.4 641.2 M210.6 639.4 205.9 650.6 209.7 655.3 214.4 655.3 220 659.1 227.5 658.1 230.3 654.4 235 651.6 240.6 650.6 244.4 651.6 242.5 643.1 M244.4 651.6 251.9 649.7 257.5 647.8 264.1 651.6 266.9 657.2 271.6 661.9 M227.5 658.1 229.4 665.6 230.3 673.1 239.7 676.9 244.4 680.6 254.7 684.4 262.2 681.6 266.9 678.8 267.8 674.1 271 670.3 M230.3 673.1 224.7 678.8 222.8 684.4 219.1 689.1 208.8 682.5 209.7 677.8 214.4 673.1 215.3 666.6 220 659.1 M195.6 660 203.1 659.1 209.7 655.3 M195.6 663.8 201.2 664.7 204.1 670.3 208.8 671.2 214.4 673.1 M204.1 670.3 203.1 675 208.8 677.8 M208.8 682.5 206.9 687.2 201.2 691.9 195.6 693.2 M206.9 687.2 212.5 690 213.4 697.5 210.6 702.2 M219.1 689.1 222.8 692.8 227.5 690.9 235.9 687.2 243.4 683.4 244.4 680.6 M227.5 690.9 227.5 697.5 226.6 706.9 M227.5 694.7 235 693.8 242.5 694.7 246.2 697.5 250 691.9 251.9 687.2 254.7 684.4 M227.5 697.5 233.1 699.4 237.8 700.3 239.1 710.2 M239.1 710.2 235 714.4 233.1 720 241.6 719.1 248.1 719.1 255.6 717.2 261.2 719.1 264.1 717.2 262.2 712.5 261.2 707.8 255.6 702.2 M233.1 720 234.1 724.7 242.5 723.8 244.4 731.2 M264.1 717.2 265 723.8 264.1 727.5 280.9 759.8 M244.4 731.2 248.1 727.5 251.9 723.8 264.1 723.8 M248.1 727.5 250 732.2 259.4 743.4 268.8 739.7 264.1 727.5 M213.4 718.1 218.1 716.2 221.9 712.5 226.6 706.9 M223.8 729.4 230.3 724.7 227.5 721.9 228.4 719.1 233.1 720 M226.6 735.9 233.1 732.2 240.6 728.4 244.4 731.2 M233.1 732.2 236.9 736.9 235.9 741.6 233.1 744.4 M259.4 743.4 263.1 750 265 757.5 M204.1 585 206.9 593.4 204.1 597.2 203.5 603.8 195.6 603.8 M203.5 603.8 202.8 611.2 199 617.8 195.6 619.1 M195.6 631.9 201.2 637.5 208.8 635.6 M200.3 639.4 202.2 646.9 201.2 657.2 195.6 658.1 M443.4 596 440.6 607.8 M449.1 597.5 448.1 612.5 M455.6 598.4 456.6 605 455.6 613.4 M462.2 599.4 460.3 605 463.1 609.7 465 612.5 M465.9 602.2 466.9 608.8 469.7 613.4 M437.8 601.2 448.1 604.1 456.6 605 460.3 605 M463.1 609.7 470.6 608.8 476.2 607.8 M579.4 573.1 580.9 578.8 581.2 584.4 578.4 588.1 579.4 592.8 576.6 597.5 574.7 601.2 577.5 605 579.4 608.8 M513.8 111.8 513.8 126.2 526.2 126.5" fill="none" stroke="#000" stroke-width="1.45" stroke-linejoin="round"/>
<path d="M400 272.8 405.6 268.1 408.4 264.4 411.2 265.3 415.9 260.6 420.6 260.6 422.5 256.9 430 253.1 435.6 249.4 438.4 244.7 439.4 247.5 440.3 242.8 443.1 239.1 447.8 234.4 452.5 232.5 458.1 232.5 462.8 233.4 464.7 225.9 466 229.7 470.3 223.1 475.9 218.4 477.8 216.6 482.5 214.7 481.6 213.4 488.1 214.7 492.8 215.6 493.8 212.8 497.5 210.9 498.4 208.1 M195.6 311.6 203.1 313.5 205 317.8 208.8 315.4 209.5 310.3 206.5 307.5 210.2 305.6 214 309.8 215.1 315.9 219.6 315 220.8 320.2 224.9 320.6 221.1 324.8 226.8 322.9 229.8 319.9 225.2 316.1 222.2 312.4 218.1 310.5 220 306.8 226.8 304.9 227.9 301.9 222.2 303 218.5 304.9 217.4 301.1 221.1 299.2 224.9 298.5 222.2 295.5 216.6 294.4 212.9 296.6 209.1 294.8 205.8 291 209.5 288 214.4 289.9 218.5 293.6 223 294.4 M223 294.4 227.5 292.1 235 291 240.6 292.9 246.2 294.4 251.9 293.4 253.4 298.1 255.6 285.9 256.8 292.5 257.5 297.8 253.8 298.1 264.1 298.1 266.9 294.4 266.5 288.8 268.4 294.4 272.5 292.5 274.4 296.2 278.1 295.3 283.8 298.1 287.5 296.2 292.2 300 296.9 302.8 300.6 303.8 302.5 306.6 305.3 310.3 307.2 314.1 306.2 318.4 313.8 318.4 319.4 315.9 325 314.6 327.8 312.2 332.5 311.2 338.1 314.1 341.9 318.8 344.7 323.4 346.6 328.1 351.2 334.7 356.9 335.6 357.2 341.2 359.7 344.1 357.8 348.8 356.9 354.4 355 360 353.1 366.6 355.9 363.8 358.8 365.6 361.6 364.7 359.7 368.4 356.9 369.4 358.8 371.2 355.9 375.9 358.8 377.8 359.7 382.5 362.5 388.1 364.4 391.9 368.1 389.1 367.2 393.8 366.2 398.4 370.9 397.5 369.1 401.2 370.9 405 371.9 410.6 374.7 414.4 377.5 416.2 379.4 420 381.2 422.8 383.1 426.6 382.2 430.3 385 433.1 388.8 435 392.5 434.6 395.3 433.1 398.1 435.9 400.9 431.2 403.8 423.8 406.6 416.2 408.4 406.9 409 399.4 407.5 391.9 405.6 384.4 402.8 375 400.9 367.5 398.1 358.1 397.2 352.5 399.1 352.5 401.9 358.1 402.8 356.2 400 350.6 396.2 343.1 393.4 335.6 390.6 326.2 388.8 318.8 387.2 309.4 387.8 301.9 388.8 294.4 390.6 288.8 393.4 282.2 396.2 277.5 400 272.8 402.8 270 M386.9 390.9 394.4 387.8 397.2 394.7 393.4 398.4 386.9 390.9 M195.6 501.5 206.9 500.9 212.5 499.1 222.8 498.5 229.4 500.9 235 503.8 241.6 506 245.3 502.8 247.2 506.6 249.1 510.3 250.9 514.1 248.1 517.8 244.4 521.6 239.7 526.2 235 530.9 232.2 535.6 230.3 544.1 224.7 546.5 225.6 550.6 230.3 548.8 231.2 550.6 227.5 553.4 223.8 555.9 226.6 557.2 229.4 555.3 218.1 580.6 212.5 579.7 211.6 574.1 214.4 572.2 215.3 564.7 209.7 569.4 205.9 573.1 210.6 575 207.8 579.7 212.5 579.7 M292.2 501.9 296.9 500.4 302.5 499.1 305.3 500 304.4 495.3 307.2 491.6 310.9 488.8 314.7 485 321.2 483.1 327.8 481.2 333.4 480.3 340 480.3 345.6 480.3 351.2 478.4 357.8 478.4 364.4 479.4 369.1 482.2 372.8 480.3 376.6 479.4 377.5 483.1 381.2 482.2 385.9 484.1 391.6 485 396.2 487.8 401.9 488.8 405.6 490.6 408.4 493.4 411.2 498.1 414.1 500.9 420.6 501.9 426.2 502.8 430 503.8 M292.2 501.9 295 503.8 301.6 502.8 302.5 505.6 308.1 503.8 312.8 503.4 314.7 499.1 319.4 497.2 324.1 499.1 327.8 496.2 332.5 493.4 338.1 489.7 342.8 488.4 349.4 488.8 355 489.7 361.6 490.6 365.3 493.4 363.4 495.9 355 496.2 357.8 500 362.5 501.9 368.1 503.4 371.9 505.6 374.7 501.9 376.6 506.6 383.1 506.6 389.7 508.4 394.4 512.2 399.1 515.9 405.6 517.8 412.2 520.6 417.8 522.5 424.4 521.6 430 523.4 M329.7 512.2 333.4 507.5 338.1 505.6 342.8 507.5 344.7 514.1 339.1 517.2 334.4 516.9 331.6 514.1 329.7 512.2 M195.6 635.2 203.1 636.6 208.8 634.7 212.5 634.1 216.2 636 223.8 637.9 233.1 640.3 242.5 641.2 251.9 639.4 252.8 637.5 254.7 639.4 263.1 641.2 273.4 640.7 281.9 644.1 287.5 645.4 292.2 646.9 296.9 651.6 302.5 657.2 308.1 661.9 313.8 669.4 310 673.1 310.9 678.8 311.9 685.3 307.2 692.8 303.4 699.4 301.6 706.9 300.6 716.2 299.7 723.8 299.7 730.3 296.9 731.2 298.8 722.8 294.1 728.4 295.9 732.2 292.2 738.8 291.2 742.5 293.1 744.4 292.2 750 288.4 753.8 287.5 760.3 M292.8 657.2 295 654.8 300.6 658.5 304.4 660.9 299.7 659.1 295.9 657.2 292.8 657.2 M307.8 673.1 310.9 671.6 310 674.1 307.8 673.1 M195.6 698.4 201.2 694.7 204.1 692.8 206.9 695.6 203.1 697.5 205.9 701.2 204.1 705 208.8 706.9 207.8 702.2 212.5 705 211.6 707.8 206.9 708.8 204.1 705 203.1 705.9 206.9 710.6 213.4 718.1 220 723.8 223.8 729.4 226.6 735.9 233.1 744.4 238.8 750.9 243.4 754.7 246.2 753.8 251.9 756.6 259.4 759.4 265 759.8 M241.6 732.2 244.4 731.2 250 736.9 255.6 744.4 261.2 750.9 265 757.5 262.2 759.4 255.6 756.6 248.1 752.8 243.4 746.2 241.6 740.6 241.6 732.2 M235.9 741.6 238.8 735 240.6 731.2 241.6 735 240.2 741.6 235.9 741.6 M429.9 503.8 435 506.6 440.6 510.3 446.2 515 448.1 516.9 452.8 518.8 456.6 520.6 460.3 523.4 459.4 526.2 464.1 526.2 466.9 530 471.6 530.9 476.2 531.9 481.9 534.7 487.5 537.5 494.1 540.3 495.9 544.1 492.2 545 494.1 546.9 498.8 546.5 504.4 547.2 510 548.8 514.7 551.6 518.4 554.4 522.2 557.2 525.9 558.1 526.9 560.9 524.1 562.8 517.5 563.8 510 564.7 504.4 566 497.8 566.6 489.4 564.7 480 563.4 468.8 563.8 457.5 564.7 447.2 564.7 450 560 454.7 557.2 460.3 553.4 462.2 549.7 459.4 545.9 450.9 545 443.4 543.1 436.9 539.4 433.1 535.6 431.2 530 429.9 523.4 M537.8 540.3 541.9 537.9 547.5 536.6 550.3 537.5 552.2 534.7 553.1 537.5 551.2 540.9 546.6 543.1 540.9 544.6 538.1 543.5 537.8 540.3 M430.3 599.4 434.1 597.5 439.7 597.1 443.4 596 449.1 597.5 455.6 598.4 462.2 599.4 465.9 602.2 471.6 605 476.2 607.8 478.5 611.6 474.4 612.5 469.7 613.4 465 612.5 460.3 613.4 456.6 616.2 453.8 613.4 449.1 612.5 444.4 612.1 440.6 607.8 437.8 604.1 433.1 602.2 430.3 599.4 M579.4 608.8 575.6 607.8 570 608.4 562.5 609.7 555 609.7 547.5 610.6 540 609.7 534.4 609.7 532.5 612.5 529.7 608.8 525 606.9 519.4 605 517.9 601.2 520.3 597.9 524.1 597.1 528.8 597.5 536.2 599.4 542.8 600.3 549.4 601.2 555 602.2 558.8 601.2 562.5 601.6 566.2 600.3 565.3 598.4 562.5 595.6 559.7 592.8 558.8 589.1 556.9 586.2 558.8 582.5 556.9 578.8 551.2 575.9 545.6 575 542.8 574.1 543.8 570.3 549.4 568.4 556.9 567.5 562.5 569.4 568.1 572.8 570 572.2 575.6 574.1 579.4 573.1 582.2 570.3 588.8 569.4 596.2 569.4 600.9 569 605.6 572.2 611.2 574.1 618.8 575.9 621.6 580.6 624.4 584.4 631.9 583.4 636.6 582.5 637.5 584.4 633.8 585.9 627.2 586.6 627.2 588.5 635.6 588.5 643.1 590 647.8 593.8 652.5 597.5 656.2 600.3 654.4 605 650.6 606.9 648.8 609.7 645.9 606.9 641.2 604.1 633.8 603.5 626.2 604.1 620.6 604.6 616.9 607.8 613.1 609.7 607.5 610.2 604.7 605 600 605.9 594.4 608.8 590.6 615.3 585.9 623.8 581.2 620 580.3 613.4 579.4 608.8 M680.3 606.6 684.1 602.2 696.2 603 707.5 603.8 717.8 604.3 718.8 608.4 715 611.2 713.1 614.1 705.6 615.9 698.1 615 691.6 614.6 687.8 616.5 685 615.4 682.2 616.5 682.8 611.2 680.3 606.6 M806.5 650.6 809.7 648.8 812.5 649.7 814.4 645.4 816.2 649.7 820.9 651 816.2 651.6 812.1 652.5 811.6 657.2 809.7 659.6 807.4 658.5 806.5 654.4 806.5 650.6 M821.9 684.4 825.6 684 828.4 686.2 830.3 689.1 829.4 690.9 831.6 692.8 831.2 695.2 828.4 694.1 825.6 694.1 826.6 691.9 823.8 690 822.8 687.2 821.9 684.4 M564.4 760.6 566.2 756.2 566.5 752.5 569.4 752.2 571.9 750.6 574.4 749.4 576.9 747.2 580 747.2 583.8 748.5 587.5 750 589.4 753.1 591.5 757.5 588.1 760.6 M570.6 753.1 572.5 751.9 573.1 753.8 571.2 754.4 570.6 753.1 M611.2 760.6 611.9 757.8 613.8 755.6 616.9 754.4 620 755.6 621.9 758.1 622.2 760.6 M460.6 398.1 466.2 404.4 469.8 406.2 472.1 407.5 472.5 411.9 470.2 414.8 468.5 418.1 467.8 423.5 463.5 420 466.2 418.5 467.5 414.8 468.5 410.6 469 407.5 466.2 404.8 M445 437.5 447.5 438.1 449 441.2 450 445 453.1 450 453.8 455 450 456.9 448.1 460.6 446.2 458.1 443.1 455 440 452.5 438.8 451.2 441.2 448.8 443.1 445 445 441.2 445 437.5 M441.9 447.5 444.4 446.9 445 449.4 442.5 450 441.9 447.5 M450 463.1 454.4 460 456.2 463.8 457.5 467.5 456.9 471.2 453.8 470 451.2 466.9 450 463.1 M451.9 464 454.4 463 455.4 465.6 453.1 466.5 451.9 464 M498.4 208.1 494.5 205.4 492.9 202.8 494 200.2 490.8 198.6 485.1 196.5 492.4 195 495 197.6 498.1 198.6 501.2 200.7 504.4 193.4 506.5 194.5 509.1 194.5 510.1 191.3 509.6 187.2 508 185.1 505.4 184.6 502.3 185.1 499.2 186.1 495 185.1 490.8 185.6 490.8 182 492.4 180.9 495 182.5 498.1 180.9 501.2 179.9 504.4 178.8 506.5 179.9 508 181.4 509.1 182 508 179.9 506.5 174.7 505.4 171 M505.9 162.7 507 167.4 509.1 174.7 511.7 183 513.8 190.3 M505.6 171.5 507.5 176.8 509.6 183 511.1 186.1 M505.9 162.7 501.2 162.2 499.7 160.1 497.6 158 500.2 156.4 498.6 153.8 500.7 151.8 499.2 149.7 501.2 148.1 500.2 145.5 502.3 143.9 501.2 141.3 503.3 138.7 502.3 135.6 501.2 133 500.7 128.8 499.7 124.7 498.6 120.5 498.1 116.3 499.2 111.8 M501.2 145 496.6 142.4 490.3 136.1 M499.2 154.9 491.9 147.6 M498.1 158 494 157 488.2 153.8 M500.2 163.7 496 162.2 M485.6 111.8 491.4 113.7 488.8 117.4 484.6 120.5 483 126.8 486.7 123.6 489.3 128.8 495 130.9 499.7 134 502.3 138.2 M504.4 111.8 503.3 115.3 505.9 117.4 503.9 119.5 507.5 121 505.4 123.6 508.5 125.7 507 127.8 511.7 128.8 510.1 131.4 512.7 134 511.1 136.6 507 138.2 511.7 138.7 510.6 143.4 508.5 147.6 507 152.8 506.5 157 508 154.9 510.1 150.7 512.7 146.5 514.8 143.4 516.9 140.3 519 138.2 522.1 136.1 M521 111.8 523.1 115.3 525.2 118.4 526.8 121.5 526.8 126.8 525.2 129.9 522.1 133.5 519 138.2 515.8 142.4 513.8 146.5 511.7 149.7 509.1 153.8 507.5 158 M528.9 114.2 530.4 112.7 532.5 112.2 530.9 114.8 528.9 115.3 M502.1 143.4 497.3 141.1 491.4 135.3 M500 153.8 493.1 147.1 M498.8 157.2 494.2 155.7 489.3 152.8 M505.4 113.2 507.3 115.8 505.2 117.6 508.3 119.2 506.7 121.3 509.8 122.6 508.1 124.7 510.8 126.5 509.6 128.4 M501.2 114.2 502.3 117.9 501.2 121.5 502.8 125.2 501.8 128.8 503.1 132.5 M484.6 121.5 487.2 120.5 488.8 123.6 492.4 127.3 496.6 129.4 500.2 132.5 M506.5 171.5 507.7 175.7 508.8 179.9 510 183.5 M496.6 180.9 498.6 182.5 501.2 181.4 503.3 182.2 M486.7 196 490.8 196.5 493.4 198.6 492.4 201.2 494.2 203.3" fill="none" stroke="#000" stroke-width="1.5" stroke-linejoin="round"/>
<path d="M269.7 -61L119 889.6 M446 -39.8L366.8 919.4 M623.3 -31.9L616.2 930.6 M800.7 -37.2L865.8 923.1 M977.3 -55.8L1114 896.9 M66.4 511.2A2968.3 2968.3 0 0 0 1215.9 511 M112.1 279.7A2732.3 2732.3 0 0 0 1170.1 279.5" fill="none" stroke="#000" stroke-width="2.2" stroke-dasharray="2.22 2.22"/>
</g>
<rect x="197" y="111" width="886" height="649.8" fill="none" stroke="#000" stroke-width="2.2"/>
<text x="379.9" y="782" font-size="17.4" text-anchor="middle">80°W</text>
<text x="617.5" y="782" font-size="17.4" text-anchor="middle">70°W</text>
<text x="854.8" y="782" font-size="17.4" text-anchor="middle">60°W</text>
<text x="188.6" y="301.3" font-size="17.4" text-anchor="end">30°N</text>
<text x="188.6" y="540.2" font-size="17.4" text-anchor="end">20°N</text>
<text x="640" y="811" font-size="26.67" text-anchor="middle">Pressure (hPa)</text>
<rect x="197.4" y="825.0" width="25.9" height="25.9" fill="#ff9e7e"/>
<rect x="222.7" y="825.0" width="25.9" height="25.9" fill="#ffa27a"/>
<rect x="248" y="825.0" width="25.9" height="25.9" fill="#ffa875"/>
<rect x="273.3" y="825.0" width="25.9" height="25.9" fill="#ffac71"/>
<rect x="298.6" y="825.0" width="25.9" height="25.9" fill="#ffb26d"/>
<rect x="323.9" y="825.0" width="25.9" height="25.9" fill="#ffb66a"/>
<rect x="349.2" y="825.0" width="25.9" height="25.9" fill="#ffbc66"/>
<rect x="374.5" y="825.0" width="25.9" height="25.9" fill="#ffc262"/>
<rect x="399.8" y="825.0" width="25.9" height="25.9" fill="#ffca5c"/>
<rect x="425.1" y="825.0" width="25.9" height="25.9" fill="#ffd258"/>
<rect x="450.4" y="825.0" width="25.9" height="25.9" fill="#ffda52"/>
<rect x="475.7" y="825.0" width="25.9" height="25.9" fill="#fee24f"/>
<rect x="501" y="825.0" width="25.9" height="25.9" fill="#fce94d"/>
<rect x="526.3" y="825.0" width="25.9" height="25.9" fill="#faf04b"/>
<rect x="551.6" y="825.0" width="25.9" height="25.9" fill="#c8f046"/>
<rect x="576.9" y="825.0" width="25.9" height="25.9" fill="#96eb41"/>
<rect x="602.2" y="825.0" width="25.9" height="25.9" fill="#64e63c"/>
<rect x="627.5" y="825.0" width="25.9" height="25.9" fill="#3ce13c"/>
<rect x="652.8" y="825.0" width="25.9" height="25.9" fill="#3cd764"/>
<rect x="678.1" y="825.0" width="25.9" height="25.9" fill="#41cd87"/>
<rect x="703.4" y="825.0" width="25.9" height="25.9" fill="#46c3aa"/>
<rect x="728.7" y="825.0" width="25.9" height="25.9" fill="#4bb4d2"/>
<rect x="754.1" y="825.0" width="25.9" height="25.9" fill="#50afe6"/>
<rect x="779.4" y="825.0" width="25.9" height="25.9" fill="#5ab3e8"/>
<rect x="804.7" y="825.0" width="25.9" height="25.9" fill="#64b8ea"/>
<rect x="830" y="825.0" width="25.9" height="25.9" fill="#6ebceb"/>
<rect x="855.3" y="825.0" width="25.9" height="25.9" fill="#78c1ed"/>
<rect x="880.6" y="825.0" width="25.9" height="25.9" fill="#82c6ef"/>
<rect x="905.9" y="825.0" width="25.9" height="25.9" fill="#8ccaf1"/>
<rect x="931.2" y="825.0" width="25.9" height="25.9" fill="#96d0f2"/>
<rect x="956.5" y="825.0" width="25.9" height="25.9" fill="#a0d4f4"/>
<rect x="981.8" y="825.0" width="25.9" height="25.9" fill="#a9d9f6"/>
<rect x="1007.1" y="825.0" width="25.9" height="25.9" fill="#b2dcf8"/>
<rect x="1032.4" y="825.0" width="25.9" height="25.9" fill="#bbdff9"/>
<rect x="1057.7" y="825.0" width="25.9" height="25.9" fill="#c4e2fb"/>
<rect x="197" y="825.0" width="886" height="25.9" fill="none" stroke="#000" stroke-width="2.2"/>
<path d="M273.3 825.0v8.9M273.3 850.9v-8.9" stroke="#000" stroke-width="1.3"/>
<text x="273.3" y="876.2" font-size="21.9" text-anchor="middle">900</text>
<path d="M374.5 825.0v8.9M374.5 850.9v-8.9" stroke="#000" stroke-width="1.3"/>
<text x="374.5" y="876.2" font-size="21.9" text-anchor="middle">800</text>
<path d="M475.7 825.0v8.9M475.7 850.9v-8.9" stroke="#000" stroke-width="1.3"/>
<text x="475.7" y="876.2" font-size="21.9" text-anchor="middle">700</text>
<path d="M576.9 825.0v8.9M576.9 850.9v-8.9" stroke="#000" stroke-width="1.3"/>
<text x="576.9" y="876.2" font-size="21.9" text-anchor="middle">600</text>
<path d="M678.1 825.0v8.9M678.1 850.9v-8.9" stroke="#000" stroke-width="1.3"/>
<text x="678.1" y="876.2" font-size="21.9" text-anchor="middle">500</text>
<path d="M779.4 825.0v8.9M779.4 850.9v-8.9" stroke="#000" stroke-width="1.3"/>
<text x="779.4" y="876.2" font-size="21.9" text-anchor="middle">400</text>
<path d="M880.6 825.0v8.9M880.6 850.9v-8.9" stroke="#000" stroke-width="1.3"/>
<text x="880.6" y="876.2" font-size="21.9" text-anchor="middle">300</text>
<path d="M981.8 825.0v8.9M981.8 850.9v-8.9" stroke="#000" stroke-width="1.3"/>
<text x="981.8" y="876.2" font-size="21.9" text-anchor="middle">200</text>
<text x="1083" y="876.2" font-size="21.9" text-anchor="middle">100</text>
</svg>
</body></html>
